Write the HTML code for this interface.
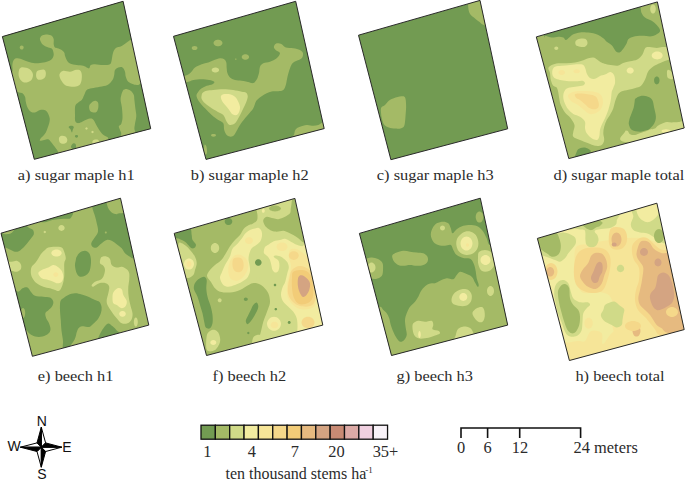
<!DOCTYPE html>
<html><head><meta charset="utf-8"><style>
html,body{margin:0;padding:0;background:#fff;}
svg{display:block;}
</style></head><body>
<svg width="685" height="479" viewBox="0 0 685 479">
<rect width="685" height="479" fill="#fff"/>
<clipPath id="c0"><polygon points="2.4,36.6 123.1,1.3 150.7,128.7 34.3,159.3"/></clipPath>
<polygon points="2.4,36.6 123.1,1.3 150.7,128.7 34.3,159.3" fill="#a4ba66"/>
<g clip-path="url(#c0)">
<path d="M-10.0,75.0C-6.6,88.7 6.8,72.9 10.5,72.0C14.2,71.1 12.2,70.8 12.5,69.8C12.8,68.8 12.2,67.1 12.3,65.7C12.4,64.3 12.6,62.6 13.0,61.5C13.4,60.4 14.0,59.4 14.6,58.9C15.2,58.4 15.5,58.2 16.7,58.3C17.9,58.3 20.0,58.7 21.7,59.2C23.4,59.7 24.8,60.7 26.7,61.3C28.6,61.9 31.1,62.7 33.3,63.0C35.5,63.3 37.8,63.2 40.0,63.0C42.2,62.8 44.8,62.3 46.7,61.7C48.7,61.1 50.5,60.3 51.7,59.2C52.9,58.1 53.5,56.4 53.7,55.0C53.9,53.6 53.3,51.9 53.0,50.8C52.7,49.7 52.5,49.1 51.7,48.6C50.9,48.1 49.7,48.1 48.3,47.5C46.9,46.9 44.5,46.0 43.3,45.0C42.0,44.0 41.3,42.8 40.8,41.7C40.2,40.6 39.7,39.4 40.0,38.3C40.3,37.2 41.2,35.9 42.5,35.3C43.8,34.7 46.0,34.4 47.5,34.5C49.0,34.6 50.7,35.0 51.7,35.8C52.7,36.6 53.4,37.8 53.7,39.2C54.0,40.6 53.5,42.8 53.7,44.2C53.9,45.6 54.4,46.8 55.0,47.5C55.6,48.2 56.4,47.9 57.5,48.3C58.6,48.7 60.6,49.3 61.7,50.0C62.8,50.7 63.7,51.5 64.2,52.5C64.8,53.5 64.6,54.5 65.0,55.8C65.4,57.0 65.9,58.7 66.7,60.0C67.5,61.3 68.3,62.7 70.0,63.5C71.7,64.3 74.5,64.6 76.7,65.0C78.9,65.4 81.6,65.4 83.3,65.8C85.0,66.2 85.7,67.1 86.7,67.5C87.7,67.9 88.5,68.7 89.2,68.3C89.9,67.9 89.8,65.7 90.8,65.0C91.8,64.3 92.9,64.2 95.0,64.2C97.1,64.2 100.8,65.0 103.3,65.0C105.8,65.0 108.6,65.0 110.0,64.2C111.4,63.4 111.3,61.5 111.7,60.0C112.1,58.5 112.1,56.7 112.5,55.0C112.9,53.3 113.5,51.2 114.2,50.0C114.9,48.8 115.7,48.0 116.7,47.5C117.7,47.0 118.9,47.1 120.0,46.7C121.1,46.3 122.2,45.7 123.3,45.0C124.4,44.3 125.7,43.2 126.7,42.5C127.7,41.8 128.5,41.2 129.2,40.8C129.9,40.4 128.4,40.5 131.0,40.0C133.6,39.5 142.7,46.3 145.0,38.0C147.3,29.7 170.8,-2.0 145.0,-10.0C119.2,-18.0 15.8,-24.2 -10.0,-10.0C-35.8,4.2 -13.4,61.3 -10.0,75.0Z" fill="#729b52"/>
<path d="M23.7,47.5C23.7,48.0 23.4,48.6 23.1,48.9C22.8,49.2 22.2,49.5 21.7,49.5C21.2,49.5 20.6,49.2 20.3,48.9C20.0,48.6 19.7,48.0 19.7,47.5C19.7,47.0 20.0,46.4 20.3,46.1C20.6,45.8 21.2,45.5 21.7,45.5C22.2,45.5 22.8,45.8 23.1,46.1C23.4,46.4 23.7,47.0 23.7,47.5Z" fill="#a4ba66"/>
<path d="M10.0,90.0C12.8,89.5 15.2,91.3 16.7,91.7C18.2,92.1 18.2,92.2 19.2,92.5C20.2,92.8 21.5,92.6 22.5,93.3C23.5,94.0 24.4,95.3 25.0,96.7C25.6,98.1 25.4,99.9 25.8,101.7C26.2,103.5 26.7,105.8 27.5,107.5C28.3,109.2 29.6,110.9 30.8,111.7C32.0,112.5 33.5,112.8 35.0,112.5C36.5,112.2 38.5,110.4 40.0,110.0C41.5,109.6 43.0,109.6 44.2,110.0C45.5,110.4 46.6,111.1 47.5,112.5C48.4,113.9 49.4,116.5 49.7,118.3C50.0,120.1 49.6,121.6 49.2,123.3C48.8,125.0 48.1,126.8 47.5,128.3C46.9,129.8 46.5,131.2 45.8,132.5C45.1,133.8 44.1,134.8 43.3,135.8C42.5,136.8 41.3,137.5 40.8,138.3C40.2,139.1 39.4,140.5 40.0,140.8C40.6,141.1 42.8,140.3 44.2,140.0C45.6,139.7 47.2,138.9 48.3,139.2C49.4,139.5 50.0,140.7 50.8,141.7C51.6,142.7 52.5,143.9 53.3,145.0C54.1,146.1 55.0,147.1 55.8,148.3C56.6,149.5 57.0,149.2 58.0,152.0C59.0,154.8 68.3,162.0 62.0,165.0C55.7,168.0 30.3,181.7 20.0,170.0C9.7,158.3 1.7,108.3 0.0,95.0C-1.7,81.7 7.2,90.5 10.0,90.0Z" fill="#729b52"/>
<path d="M115.0,70.0C115.7,68.8 117.0,67.9 118.3,67.5C119.5,67.1 121.4,66.8 122.5,67.5C123.6,68.2 124.5,70.2 125.0,71.7C125.5,73.2 125.2,75.0 125.8,76.7C126.3,78.4 127.1,80.5 128.3,81.7C129.6,83.0 131.6,83.7 133.3,84.2C135.0,84.8 136.2,85.0 138.3,85.0C140.4,85.0 142.4,77.3 146.0,84.0C149.6,90.7 158.0,114.8 160.0,125.0C162.0,135.2 165.7,142.2 158.0,145.0C150.3,147.8 122.4,143.3 114.0,142.0C105.6,140.7 109.4,138.5 107.6,137.2C105.8,135.9 104.3,135.7 102.9,134.4C101.5,133.2 100.2,131.3 99.1,129.7C98.0,128.1 97.1,126.4 96.3,125.0C95.5,123.6 95.0,122.3 94.4,121.3C93.8,120.3 93.4,119.4 92.6,118.9C91.8,118.4 91.0,118.3 89.7,118.5C88.4,118.7 86.4,119.7 85.0,120.3C83.6,120.9 82.5,121.7 81.3,122.2C80.0,122.7 78.5,123.3 77.5,123.1C76.5,122.9 75.6,122.3 75.2,121.0C74.8,119.7 75.0,117.5 75.0,115.0C75.0,112.5 74.7,108.1 75.2,106.0C75.8,103.9 77.2,103.5 78.3,102.5C79.4,101.5 80.7,101.2 81.7,100.0C82.7,98.8 83.4,96.7 84.2,95.0C85.0,93.3 85.5,91.1 86.7,90.0C88.0,88.9 89.5,88.8 91.7,88.3C93.9,87.8 97.4,87.2 100.0,86.7C102.6,86.2 105.4,86.1 107.5,85.0C109.6,83.9 111.4,81.7 112.5,80.0C113.6,78.3 113.8,76.7 114.2,75.0C114.6,73.3 114.3,71.2 115.0,70.0Z" fill="#729b52"/>
<path d="M89.2,105.8C89.5,104.4 90.7,103.3 91.7,102.5C92.7,101.7 94.0,100.8 95.0,100.8C96.0,100.8 97.5,101.4 98.0,102.5C98.5,103.6 98.5,106.0 98.3,107.5C98.1,109.0 97.5,110.9 96.7,111.7C95.9,112.5 94.4,112.7 93.3,112.5C92.2,112.3 90.7,111.9 90.0,110.8C89.3,109.7 88.9,107.2 89.2,105.8Z" fill="#a4ba66"/>
<path d="M123.0,90.5C123.6,89.5 124.2,89.4 125.0,89.2C125.8,89.0 127.0,89.2 128.0,89.5C129.0,89.8 130.0,90.1 131.0,91.0C132.0,91.9 133.2,93.5 133.8,95.0C134.4,96.5 134.1,97.5 134.4,100.0C134.7,102.5 135.3,107.3 135.6,110.0C135.9,112.7 136.4,114.0 136.3,116.3C136.2,118.6 135.3,121.7 135.0,123.8C134.7,125.9 134.4,127.6 134.4,128.8C134.4,130.1 134.7,129.4 135.0,131.3C135.3,133.2 138.5,138.2 136.0,140.0C133.5,141.8 122.5,143.0 120.0,142.0C117.5,141.0 121.3,136.0 121.3,134.0C121.3,132.0 120.4,131.3 120.0,130.0C119.6,128.7 118.6,127.3 118.8,126.3C119.0,125.3 120.7,125.3 121.3,123.8C121.9,122.3 122.4,120.2 122.5,117.5C122.6,114.8 122.2,110.4 121.9,107.5C121.6,104.6 120.7,102.1 120.6,100.0C120.5,97.9 120.9,96.6 121.3,95.0C121.7,93.4 122.4,91.5 123.0,90.5Z" fill="#a4ba66"/>
<path d="M68.6,126.9C68.8,126.3 70.5,125.8 71.4,125.8C72.3,125.8 73.6,126.2 73.8,126.9C74.0,127.6 73.1,128.8 72.8,129.7C72.5,130.6 72.3,132.6 71.9,132.5C71.5,132.4 71.0,130.1 70.5,129.2C70.0,128.3 68.4,127.5 68.6,126.9Z" fill="#729b52"/>
<path d="M78.1,136.3C78.1,136.6 77.9,137.1 77.6,137.3C77.4,137.5 76.9,137.7 76.5,137.7C76.1,137.7 75.6,137.5 75.4,137.3C75.1,137.1 74.9,136.6 74.9,136.3C74.9,136.0 75.1,135.5 75.4,135.3C75.6,135.1 76.1,134.9 76.5,134.9C76.9,134.9 77.4,135.1 77.6,135.3C77.9,135.5 78.1,136.0 78.1,136.3Z" fill="#729b52"/>
<path d="M71.0,147.0C70.8,145.9 72.2,144.0 73.0,143.5C73.8,143.0 75.0,143.2 75.5,144.0C76.0,144.8 76.2,147.0 76.0,148.0C75.8,149.0 74.8,150.2 74.0,150.0C73.2,149.8 71.2,148.1 71.0,147.0Z" fill="#729b52"/>
<path d="M19.3,69.3C19.9,68.0 20.8,67.5 21.9,67.2C23.0,67.0 24.7,67.4 26.1,67.8C27.5,68.2 29.2,68.8 30.3,69.8C31.4,70.8 32.6,72.4 32.9,74.0C33.2,75.6 32.7,77.9 31.9,79.2C31.1,80.5 29.5,81.4 28.2,81.9C26.9,82.4 25.3,82.8 24.0,82.4C22.7,82.1 21.3,81.0 20.4,79.8C19.5,78.6 18.8,76.8 18.6,75.1C18.4,73.3 18.8,70.6 19.3,69.3Z" fill="#d0da88"/>
<path d="M36.7,71.7C37.3,70.6 38.8,70.3 40.0,70.0C41.2,69.7 43.2,69.3 44.2,69.7C45.2,70.1 45.6,71.3 45.8,72.5C46.0,73.7 45.8,75.6 45.3,76.7C44.8,77.8 43.7,78.7 42.5,79.2C41.3,79.7 39.3,80.1 38.3,79.7C37.2,79.3 36.5,78.0 36.2,76.7C35.9,75.4 36.1,72.8 36.7,71.7Z" fill="#d0da88"/>
<path d="M60.0,73.3C60.6,72.4 61.6,71.1 63.3,70.8C65.0,70.5 68.0,71.8 70.0,71.7C72.0,71.6 73.4,70.3 75.0,70.0C76.6,69.7 78.4,69.5 79.5,70.0C80.6,70.5 81.1,71.5 81.5,73.0C81.9,74.5 82.0,77.1 81.7,79.0C81.5,80.9 81.0,83.2 80.0,84.5C79.0,85.8 77.7,86.2 76.0,86.5C74.3,86.8 71.8,86.8 70.0,86.5C68.2,86.2 66.5,86.1 65.0,85.0C63.5,83.9 61.9,81.5 61.0,80.0C60.1,78.5 59.7,77.1 59.5,76.0C59.3,74.9 59.4,74.2 60.0,73.3Z" fill="#d0da88"/>
<path d="M59.0,138.0C59.3,136.9 60.5,136.1 61.5,135.8C62.5,135.5 64.0,135.7 65.0,136.2C66.0,136.7 67.0,137.9 67.2,139.0C67.5,140.1 67.2,141.7 66.5,142.5C65.8,143.3 64.1,143.8 63.0,143.8C61.9,143.8 60.5,143.5 59.8,142.5C59.1,141.5 58.7,139.1 59.0,138.0Z" fill="#d0da88"/>
<path d="M87.7,128.5C87.7,128.8 87.5,129.1 87.3,129.3C87.1,129.5 86.8,129.7 86.5,129.7C86.2,129.7 85.9,129.5 85.7,129.3C85.5,129.1 85.3,128.8 85.3,128.5C85.3,128.2 85.5,127.9 85.7,127.7C85.9,127.5 86.2,127.3 86.5,127.3C86.8,127.3 87.1,127.5 87.3,127.7C87.5,127.9 87.7,128.2 87.7,128.5Z" fill="#d0da88"/>
<path d="M93.7,132.0C93.7,132.3 93.5,132.6 93.3,132.8C93.1,133.0 92.8,133.2 92.5,133.2C92.2,133.2 91.9,133.0 91.7,132.8C91.5,132.6 91.3,132.3 91.3,132.0C91.3,131.7 91.5,131.4 91.7,131.2C91.9,131.0 92.2,130.8 92.5,130.8C92.8,130.8 93.1,131.0 93.3,131.2C93.5,131.4 93.7,131.7 93.7,132.0Z" fill="#d0da88"/>
<path d="M92.6,141.0C92.9,140.3 94.1,139.8 95.0,139.6C95.9,139.4 97.5,139.4 98.2,140.0C98.9,140.6 99.9,142.3 99.0,143.0C98.1,143.7 94.1,144.3 93.0,144.0C91.9,143.7 92.3,141.7 92.6,141.0Z" fill="#d0da88"/>
</g>
<polygon points="2.4,36.6 123.1,1.3 150.7,128.7 34.3,159.3" fill="none" stroke="#2a2a2a" stroke-width="1"/>
<clipPath id="c1"><polygon points="173.5,36.3 295.7,1.3 324.2,128.6 206,159.4"/></clipPath>
<polygon points="173.5,36.3 295.7,1.3 324.2,128.6 206,159.4" fill="#729b52"/>
<g clip-path="url(#c1)">
<path d="M175.0,76.0C176.5,74.7 181.5,76.5 184.0,76.0C186.5,75.5 188.2,74.7 190.0,73.3C191.8,71.9 193.1,69.0 195.0,67.5C196.9,66.0 199.5,65.0 201.7,64.2C203.9,63.4 206.2,63.2 208.3,62.5C210.4,61.8 212.2,60.7 214.2,60.0C216.1,59.3 218.3,58.4 220.0,58.3C221.7,58.2 223.1,58.5 224.2,59.2C225.2,59.9 225.9,61.0 226.3,62.5C226.7,64.0 226.5,66.5 226.7,68.3C226.9,70.1 226.9,71.8 227.5,73.3C228.1,74.8 228.8,76.4 230.0,77.5C231.2,78.6 233.1,79.5 235.0,80.0C236.9,80.5 239.5,80.5 241.7,80.8C243.9,81.1 246.1,81.6 248.0,82.0C249.9,82.4 251.8,83.5 253.3,83.0C254.8,82.5 256.1,80.7 257.0,79.0C257.9,77.3 258.5,75.0 259.0,73.0C259.5,71.0 259.3,68.3 260.0,66.7C260.7,65.1 261.6,64.1 263.3,63.3C265.0,62.5 267.8,62.5 270.0,61.7C272.2,60.9 275.0,59.7 276.7,58.3C278.4,56.9 280.0,54.5 280.0,53.3C280.0,52.0 277.7,51.6 276.7,50.8C275.7,50.0 274.6,49.1 274.2,48.3C273.8,47.5 273.8,46.6 274.2,45.8C274.6,45.0 275.4,43.6 276.7,43.3C277.9,43.0 280.2,43.5 281.7,44.2C283.2,44.9 283.9,46.8 285.8,47.5C287.7,48.2 290.9,47.9 293.3,48.3C295.7,48.7 298.4,49.2 300.0,50.0C301.6,50.8 302.7,51.9 303.0,53.3C303.3,54.7 302.8,57.0 301.7,58.3C300.6,59.5 298.2,60.0 296.7,60.8C295.2,61.6 293.6,62.0 292.5,63.3C291.4,64.5 290.8,66.1 290.0,68.3C289.2,70.5 288.2,73.9 287.5,76.7C286.8,79.5 286.5,82.8 285.8,85.0C285.1,87.2 284.6,89.0 283.3,90.0C282.1,91.0 280.2,91.0 278.3,91.3C276.4,91.5 273.6,91.2 271.7,91.5C269.8,91.8 268.3,92.5 266.7,93.3C265.1,94.0 263.4,95.0 262.0,96.0C260.6,97.0 259.0,98.0 258.0,99.0C257.0,100.0 256.6,100.2 255.8,101.7C255.0,103.2 254.3,106.5 253.3,108.3C252.3,110.1 251.4,110.8 250.0,112.5C248.6,114.2 246.7,116.2 245.0,118.3C243.3,120.4 241.4,122.9 240.0,125.0C238.6,127.1 237.7,129.1 236.7,130.8C235.7,132.5 235.2,134.0 234.2,135.0C233.2,136.0 232.1,136.7 230.8,136.7C229.6,136.7 227.8,136.1 226.7,135.0C225.6,133.9 224.8,131.9 224.2,130.0C223.6,128.1 224.3,125.0 223.3,123.3C222.3,121.6 220.2,121.4 218.3,120.0C216.4,118.6 213.9,117.0 211.7,115.0C209.5,113.0 207.1,110.5 205.0,108.3C202.9,106.1 200.6,103.8 199.2,101.7C197.8,99.7 196.7,97.7 196.5,96.0C196.3,94.3 197.4,93.0 198.3,91.7C199.2,90.4 200.3,89.3 201.7,88.3C203.1,87.3 204.9,86.5 206.7,85.8C208.5,85.1 211.2,84.9 212.5,84.2C213.8,83.5 214.8,82.4 214.2,81.7C213.6,81.0 211.3,80.4 209.2,80.0C207.1,79.6 204.3,79.2 201.7,79.2C199.0,79.2 195.5,79.6 193.3,80.0C191.1,80.4 191.4,81.0 188.3,81.7C185.2,82.4 177.2,85.0 175.0,84.0C172.8,83.0 173.5,77.3 175.0,76.0Z" fill="#a4ba66"/>
<path d="M222.5,43.0C222.5,43.8 221.9,44.8 221.2,45.3C220.4,45.9 219.1,46.3 218.0,46.3C216.9,46.3 215.6,45.9 214.8,45.3C214.1,44.8 213.5,43.8 213.5,43.0C213.5,42.2 214.1,41.2 214.8,40.7C215.6,40.1 216.9,39.7 218.0,39.7C219.1,39.7 220.4,40.1 221.2,40.7C221.9,41.2 222.5,42.2 222.5,43.0Z" fill="#a4ba66"/>
<path d="M197.5,48.0C197.5,48.5 197.1,49.1 196.7,49.5C196.2,49.8 195.3,50.1 194.6,50.1C193.9,50.1 193.0,49.8 192.5,49.5C192.1,49.1 191.7,48.5 191.7,48.0C191.7,47.5 192.1,46.9 192.5,46.5C193.0,46.2 193.9,45.9 194.6,45.9C195.3,45.9 196.2,46.2 196.7,46.5C197.1,46.9 197.5,47.5 197.5,48.0Z" fill="#a4ba66"/>
<path d="M249.1,57.0C249.1,57.7 248.6,58.5 248.0,59.0C247.4,59.4 246.3,59.8 245.4,59.8C244.5,59.8 243.4,59.4 242.8,59.0C242.2,58.5 241.7,57.7 241.7,57.0C241.7,56.3 242.2,55.5 242.8,55.0C243.4,54.6 244.5,54.2 245.4,54.2C246.3,54.2 247.4,54.6 248.0,55.0C248.6,55.5 249.1,56.3 249.1,57.0Z" fill="#a4ba66"/>
<path d="M236.6,59.2C236.6,59.3 236.5,59.5 236.4,59.6C236.2,59.7 236.0,59.8 235.8,59.8C235.6,59.8 235.4,59.7 235.2,59.6C235.1,59.5 235.0,59.3 235.0,59.2C235.0,59.1 235.1,58.9 235.2,58.8C235.4,58.7 235.6,58.6 235.8,58.6C236.0,58.6 236.2,58.7 236.4,58.8C236.5,58.9 236.6,59.1 236.6,59.2Z" fill="#a4ba66"/>
<path d="M294.2,134.2C294.5,132.4 294.8,130.4 295.8,129.2C296.8,127.9 298.2,127.4 300.0,126.7C301.8,126.0 304.5,125.2 306.7,125.0C308.9,124.8 311.4,125.8 313.3,125.8C315.2,125.8 316.8,125.5 318.3,125.0C319.8,124.5 321.2,123.2 322.5,122.5C323.8,121.8 324.8,118.9 326.0,121.0C327.2,123.1 335.3,131.8 330.0,135.0C324.7,138.2 300.0,140.1 294.0,140.0C288.0,139.9 293.9,136.0 294.2,134.2Z" fill="#a4ba66"/>
<path d="M204.5,145.0C204.9,143.7 205.8,145.2 206.2,146.0C206.6,146.8 206.9,148.7 207.0,150.0C207.1,151.3 207.0,153.3 206.5,154.0C206.0,154.7 204.3,155.5 204.0,154.0C203.7,152.5 204.1,146.3 204.5,145.0Z" fill="#a4ba66"/>
<path d="M216.0,135.3C216.0,135.6 215.7,136.1 215.3,136.3C214.9,136.5 214.1,136.7 213.5,136.7C212.9,136.7 212.1,136.5 211.7,136.3C211.3,136.1 211.0,135.6 211.0,135.3C211.0,135.0 211.3,134.5 211.7,134.3C212.1,134.1 212.9,133.9 213.5,133.9C214.1,133.9 214.9,134.1 215.3,134.3C215.7,134.5 216.0,135.0 216.0,135.3Z" fill="#a4ba66"/>
<path d="M219.1,70.0C219.1,70.6 218.6,71.4 218.0,71.8C217.4,72.2 216.3,72.5 215.4,72.5C214.5,72.5 213.4,72.2 212.8,71.8C212.2,71.4 211.7,70.6 211.7,70.0C211.7,69.4 212.2,68.6 212.8,68.2C213.4,67.8 214.5,67.5 215.4,67.5C216.3,67.5 217.4,67.8 218.0,68.2C218.6,68.6 219.1,69.4 219.1,70.0Z" fill="#d0da88"/>
<path d="M201.7,95.0C201.9,93.9 202.2,93.2 203.0,92.5C203.8,91.8 205.0,91.2 206.7,90.8C208.4,90.4 210.5,90.3 213.3,90.0C216.1,89.7 220.0,89.2 223.3,89.2C226.6,89.2 230.2,89.6 233.3,90.0C236.4,90.4 239.6,91.3 241.7,91.7C243.8,92.1 244.8,92.0 245.8,92.5C246.8,93.0 247.2,94.0 247.5,95.0C247.8,96.0 247.9,96.6 247.5,98.3C247.1,100.0 246.0,102.8 245.0,105.0C244.0,107.2 242.8,109.5 241.7,111.7C240.6,113.9 239.4,116.4 238.3,118.3C237.2,120.2 236.4,122.2 235.0,123.3C233.6,124.4 231.4,125.3 230.0,125.0C228.6,124.7 227.8,123.4 226.7,121.7C225.6,120.0 224.8,116.7 223.3,115.0C221.8,113.3 219.4,112.8 217.5,111.7C215.6,110.6 213.8,109.7 211.7,108.3C209.6,106.9 206.7,104.8 205.0,103.3C203.3,101.8 202.2,100.4 201.7,99.0C201.1,97.6 201.5,96.1 201.7,95.0Z" fill="#d0da88"/>
<path d="M220.8,96.7C220.9,95.5 221.8,94.6 223.3,94.2C224.8,93.8 228.1,93.8 230.0,94.2C231.9,94.6 233.6,95.5 235.0,96.7C236.4,98.0 237.5,100.0 238.3,101.7C239.1,103.4 239.8,105.0 240.0,106.7C240.2,108.4 239.8,110.3 239.2,111.7C238.6,113.1 237.8,114.6 236.7,115.0C235.6,115.4 233.8,115.0 232.5,114.2C231.2,113.4 230.3,111.4 229.2,110.0C228.1,108.6 226.9,107.2 225.8,105.8C224.7,104.4 223.3,103.2 222.5,101.7C221.7,100.2 220.7,98.0 220.8,96.7Z" fill="#f2eca0"/>
</g>
<polygon points="173.5,36.3 295.7,1.3 324.2,128.6 206,159.4" fill="none" stroke="#2a2a2a" stroke-width="1"/>
<clipPath id="c2"><polygon points="358.5,35.2 480,0.4 507.7,128.8 390.9,159.7"/></clipPath>
<polygon points="358.5,35.2 480,0.4 507.7,128.8 390.9,159.7" fill="#729b52"/>
<g clip-path="url(#c2)">
<path d="M381.3,107.6C382.0,106.3 383.8,106.2 385.0,105.1C386.2,103.9 387.3,101.8 388.8,100.7C390.3,99.6 391.7,98.9 393.8,98.2C395.9,97.5 399.4,96.4 401.3,96.3C403.2,96.2 404.3,96.0 405.1,97.5C405.9,99.0 406.0,102.4 406.1,105.1C406.2,107.8 406.0,110.5 405.7,113.8C405.4,117.1 405.2,122.7 404.5,125.1C403.8,127.5 402.9,127.6 401.3,128.2C399.7,128.8 397.2,128.7 395.1,128.6C393.0,128.5 390.6,128.0 388.8,127.4C387.0,126.8 385.5,126.5 384.4,125.1C383.2,123.7 382.5,120.9 381.9,118.8C381.3,116.7 381.1,114.5 381.0,112.6C380.9,110.7 380.6,108.8 381.3,107.6Z" fill="#a4ba66"/>
<path d="M467.0,2.0C467.3,4.2 467.7,3.5 468.0,5.0C468.3,6.5 468.3,9.2 468.8,10.9C469.3,12.6 469.9,13.8 470.9,15.0C471.9,16.2 473.6,17.3 475.0,18.4C476.4,19.5 477.7,20.6 479.2,21.7C480.7,22.8 481.2,24.1 483.8,25.1C486.4,26.2 493.1,33.5 495.0,28.0C496.9,22.5 499.8,-2.0 495.0,-8.0C490.2,-14.0 470.7,-9.7 466.0,-8.0C461.3,-6.3 466.7,-0.2 467.0,2.0Z" fill="#a4ba66"/>
</g>
<polygon points="358.5,35.2 480,0.4 507.7,128.8 390.9,159.7" fill="none" stroke="#2a2a2a" stroke-width="1"/>
<clipPath id="c3"><polygon points="536.3,36.9 657.4,1.9 684.2,128 568.8,158.6"/></clipPath>
<polygon points="536.3,36.9 657.4,1.9 684.2,128 568.8,158.6" fill="#a4ba66"/>
<g clip-path="url(#c3)">
<path d="M544.0,34.0C545.0,40.8 544.5,35.2 545.8,35.8C547.1,36.4 549.6,37.4 551.7,37.5C553.8,37.6 556.4,36.7 558.3,36.7C560.2,36.7 562.0,37.0 563.3,37.5C564.5,38.0 564.8,40.0 565.8,40.0C566.8,40.0 568.0,38.5 569.2,37.5C570.5,36.5 571.5,35.0 573.3,34.2C575.1,33.4 577.8,32.8 580.0,32.5C582.2,32.2 584.5,32.4 586.7,32.5C588.9,32.6 591.4,32.9 593.3,33.3C595.2,33.7 596.6,34.2 598.3,35.0C600.0,35.8 601.9,37.2 603.3,38.3C604.7,39.4 605.6,40.8 606.7,41.7C607.8,42.6 608.8,43.1 609.8,43.8C610.8,44.5 611.4,44.7 612.4,46.0C613.4,47.3 614.8,50.4 616.0,51.5C617.2,52.6 618.3,52.8 619.5,52.4C620.7,52.0 621.9,50.4 623.1,48.9C624.3,47.4 625.7,45.1 626.6,43.5C627.5,41.9 627.2,40.3 628.3,39.2C629.4,38.1 631.1,37.3 633.3,36.7C635.5,36.1 638.6,35.9 641.7,35.8C644.8,35.7 648.9,36.7 651.7,36.3C654.5,35.9 656.9,34.3 658.3,33.3C659.7,32.2 660.3,31.4 660.0,30.0C659.7,28.6 658.1,26.5 656.7,25.0C655.3,23.5 653.7,22.1 651.7,20.8C649.8,19.6 646.7,18.8 645.0,17.5C643.3,16.2 642.4,14.7 641.7,13.3C641.0,11.9 641.0,10.6 640.8,9.2C640.6,7.8 640.6,7.4 640.5,5.0C640.4,2.6 656.8,-3.3 640.0,-5.0C623.2,-6.7 556.0,-11.5 540.0,-5.0C524.0,1.5 543.0,27.2 544.0,34.0Z" fill="#729b52"/>
<path d="M575.8,40.8C576.5,39.8 578.3,39.0 580.0,38.7C581.7,38.4 584.5,38.4 585.8,39.2C587.0,40.0 587.6,42.0 587.5,43.3C587.4,44.5 586.2,46.1 585.0,46.7C583.8,47.3 581.5,47.0 580.0,46.7C578.5,46.4 576.5,46.0 575.8,45.0C575.1,44.0 575.1,41.8 575.8,40.8Z" fill="#d0da88"/>
<path d="M558.3,48.2C558.3,48.6 558.0,49.2 557.7,49.5C557.4,49.8 556.8,50.0 556.3,50.0C555.8,50.0 555.2,49.8 554.9,49.5C554.6,49.2 554.3,48.6 554.3,48.2C554.3,47.8 554.6,47.2 554.9,46.9C555.2,46.6 555.8,46.4 556.3,46.4C556.8,46.4 557.4,46.6 557.7,46.9C558.0,47.2 558.3,47.8 558.3,48.2Z" fill="#d0da88"/>
<path d="M655.8,9.0C655.8,10.1 655.4,11.4 655.0,12.2C654.5,12.9 653.7,13.5 653.0,13.5C652.3,13.5 651.5,12.9 651.0,12.2C650.6,11.4 650.2,10.1 650.2,9.0C650.2,7.9 650.6,6.6 651.0,5.8C651.5,5.1 652.3,4.5 653.0,4.5C653.7,4.5 654.5,5.1 655.0,5.8C655.4,6.6 655.8,7.9 655.8,9.0Z" fill="#d0da88"/>
<path d="M548.3,68.3C548.6,67.0 550.0,65.8 551.7,65.0C553.4,64.2 555.8,63.6 558.3,63.3C560.8,63.0 563.9,63.4 566.7,63.3C569.5,63.2 572.5,62.9 575.0,62.5C577.5,62.1 579.5,61.5 581.7,60.8C583.9,60.1 586.4,58.8 588.3,58.3C590.2,57.8 591.9,57.4 593.3,57.5C594.7,57.6 595.6,58.5 596.7,59.2C597.8,59.9 598.9,61.0 600.0,61.7C601.1,62.4 601.8,62.8 603.3,63.3C604.8,63.8 606.5,64.4 608.9,64.8C611.3,65.2 615.3,66.0 617.7,65.7C620.1,65.4 621.0,63.8 623.1,63.1C625.2,62.4 627.8,61.9 630.2,61.3C632.6,60.7 635.2,60.7 637.3,59.5C639.4,58.3 641.3,56.1 642.6,54.2C643.9,52.3 644.1,49.2 645.3,48.0C646.5,46.8 647.8,47.1 649.7,47.1C651.6,47.1 654.7,48.0 656.8,48.0C658.9,48.0 660.5,47.2 662.1,47.1C663.7,47.0 664.4,47.1 666.5,47.1C668.6,47.1 673.6,44.9 675.0,47.0C676.4,49.1 676.0,57.4 675.0,59.5C674.0,61.6 671.7,58.9 669.2,59.5C666.8,60.1 663.0,61.9 660.3,63.1C657.6,64.3 655.3,65.1 653.2,66.6C651.1,68.1 649.2,69.8 647.9,71.9C646.6,74.0 646.5,76.6 645.3,79.0C644.1,81.4 642.4,84.6 640.8,86.1C639.2,87.6 637.6,87.3 635.5,87.9C633.4,88.5 630.8,89.1 628.4,89.7C626.0,90.3 623.1,90.6 621.3,91.5C619.5,92.4 618.8,93.3 617.7,95.0C616.7,96.7 615.7,99.5 615.0,101.7C614.3,103.9 614.1,106.1 613.3,108.3C612.5,110.5 611.1,113.0 610.0,115.0C608.9,117.0 607.7,118.0 606.7,120.0C605.7,122.0 604.8,124.5 604.2,126.7C603.6,128.9 603.3,131.1 603.3,133.3C603.3,135.5 604.5,138.1 604.2,140.0C603.9,141.9 603.2,144.0 601.7,145.0C600.2,146.0 597.2,146.1 595.0,145.8C592.8,145.5 590.8,144.3 588.3,143.3C585.8,142.3 582.5,141.1 580.0,140.0C577.5,138.9 574.4,138.1 573.3,136.7C572.2,135.3 573.1,133.6 573.3,131.7C573.5,129.8 575.0,127.3 574.5,125.0C574.0,122.7 572.1,120.1 570.5,118.0C568.9,115.9 566.6,114.7 565.0,112.5C563.4,110.3 561.8,107.4 560.8,105.0C559.8,102.6 559.6,100.4 559.2,98.3C558.8,96.2 558.7,94.3 558.3,92.5C557.9,90.7 557.5,88.6 556.7,87.5C555.9,86.4 554.3,87.0 553.3,85.8C552.3,84.5 551.3,82.1 550.8,80.0C550.2,77.9 550.4,75.0 550.0,73.0C549.6,71.0 548.0,69.6 548.3,68.3Z" fill="#d0da88"/>
<path d="M552.5,70.0C552.9,68.6 553.5,67.4 555.0,66.7C556.5,66.0 559.2,66.1 561.7,65.8C564.2,65.5 567.2,65.3 570.0,65.0C572.8,64.7 576.1,64.2 578.3,64.2C580.5,64.2 582.1,64.2 583.3,65.0C584.5,65.8 584.9,67.5 585.5,69.0C586.1,70.5 586.2,72.5 587.0,74.0C587.8,75.5 588.8,77.2 590.0,78.0C591.2,78.8 592.8,79.1 594.0,79.0C595.2,78.9 596.5,78.0 597.5,77.5C598.5,77.0 598.8,76.5 600.0,76.0C601.2,75.5 603.2,75.3 605.0,74.6C606.8,73.9 609.1,71.8 610.6,71.9C612.1,72.1 613.5,73.7 614.2,75.5C615.0,77.3 615.2,80.5 615.1,82.6C615.0,84.7 613.9,86.3 613.3,87.9C612.7,89.5 612.1,90.0 611.7,92.0C611.3,94.0 611.4,97.0 610.8,100.0C610.2,103.0 609.3,107.0 608.3,110.0C607.3,113.0 606.1,115.8 605.0,118.3C603.9,120.8 602.5,123.0 601.7,125.0C600.9,127.0 600.4,128.1 600.0,130.0C599.6,131.9 599.8,135.0 599.2,136.7C598.7,138.4 598.0,139.7 596.7,140.0C595.5,140.3 593.4,139.4 591.7,138.3C590.0,137.2 587.8,135.0 586.7,133.3C585.6,131.6 585.3,130.2 585.0,128.3C584.7,126.4 585.8,123.6 585.0,121.7C584.2,119.8 582.0,118.0 580.0,116.7C578.0,115.4 575.3,115.3 573.3,114.0C571.3,112.7 569.5,111.0 568.0,109.0C566.5,107.0 565.0,104.0 564.2,101.7C563.4,99.4 563.1,97.0 563.3,95.0C563.5,93.0 564.4,90.8 565.5,89.5C566.6,88.2 568.1,88.0 570.0,87.5C571.9,87.0 574.8,86.8 577.0,86.5C579.2,86.2 581.7,86.1 583.0,85.5C584.3,84.9 585.0,83.8 585.0,83.0C585.0,82.2 583.8,81.3 583.0,81.0C582.2,80.7 581.3,81.0 580.0,81.0C578.7,81.0 577.2,81.3 575.0,81.3C572.8,81.3 569.2,81.2 566.7,81.0C564.2,80.8 562.0,80.5 560.0,80.0C558.0,79.5 556.2,79.1 555.0,78.3C553.8,77.5 552.9,76.4 552.5,75.0C552.1,73.6 552.1,71.4 552.5,70.0Z" fill="#f2eca0"/>
<path d="M568.0,95.0C568.7,93.4 572.2,92.2 575.0,91.5C577.8,90.8 581.7,90.9 585.0,91.0C588.3,91.1 592.3,91.3 595.0,92.0C597.7,92.7 599.7,93.3 601.0,95.0C602.3,96.7 603.0,99.7 603.0,102.0C603.0,104.3 602.2,107.2 601.0,109.0C599.8,110.8 597.8,112.2 596.0,113.0C594.2,113.8 592.0,114.5 590.0,114.0C588.0,113.5 586.0,111.5 584.0,110.0C582.0,108.5 580.2,106.5 578.0,105.0C575.8,103.5 572.7,102.7 571.0,101.0C569.3,99.3 567.3,96.6 568.0,95.0Z" fill="#f6e598"/>
<path d="M575.0,94.3C575.8,93.6 579.2,93.6 581.3,93.6C583.4,93.6 585.4,94.0 587.5,94.3C589.6,94.6 592.2,94.9 593.8,95.5C595.4,96.1 596.1,96.6 596.9,98.0C597.7,99.4 598.6,102.1 598.8,103.7C599.0,105.3 598.9,106.5 598.2,107.4C597.5,108.3 595.9,109.2 594.4,109.3C592.9,109.4 591.1,108.9 589.4,108.0C587.7,107.1 586.0,105.0 584.4,103.7C582.8,102.4 581.4,100.9 580.0,99.9C578.6,99.0 577.1,98.9 576.3,98.0C575.5,97.1 574.2,95.0 575.0,94.3Z" fill="#f5d88a"/>
<path d="M565.0,72.5C565.0,73.1 564.6,73.9 564.0,74.3C563.5,74.7 562.5,75.0 561.7,75.0C560.9,75.0 559.9,74.7 559.4,74.3C558.8,73.9 558.4,73.1 558.4,72.5C558.4,71.9 558.8,71.1 559.4,70.7C559.9,70.3 560.9,70.0 561.7,70.0C562.5,70.0 563.5,70.3 564.0,70.7C564.6,71.1 565.0,71.9 565.0,72.5Z" fill="#f6e598"/>
<path d="M580.0,71.3C580.0,71.8 579.6,72.4 579.0,72.7C578.5,73.0 577.5,73.3 576.7,73.3C575.9,73.3 574.9,73.0 574.4,72.7C573.8,72.4 573.4,71.8 573.4,71.3C573.4,70.8 573.8,70.2 574.4,69.9C574.9,69.6 575.9,69.3 576.7,69.3C577.5,69.3 578.5,69.6 579.0,69.9C579.6,70.2 580.0,70.8 580.0,71.3Z" fill="#f6e598"/>
<path d="M662.7,55.5C662.7,56.4 662.0,57.7 661.1,58.3C660.2,59.0 658.5,59.5 657.2,59.5C655.9,59.5 654.2,59.0 653.3,58.3C652.4,57.7 651.7,56.4 651.7,55.5C651.7,54.6 652.4,53.3 653.3,52.7C654.2,52.0 655.9,51.5 657.2,51.5C658.5,51.5 660.2,52.0 661.1,52.7C662.0,53.3 662.7,54.6 662.7,55.5Z" fill="#f2eca0"/>
<path d="M633.8,70.6C633.8,71.3 633.3,72.3 632.7,72.8C632.1,73.3 631.0,73.7 630.2,73.7C629.4,73.7 628.3,73.3 627.7,72.8C627.1,72.3 626.6,71.3 626.6,70.6C626.6,69.9 627.1,68.9 627.7,68.4C628.3,67.9 629.4,67.5 630.2,67.5C631.0,67.5 632.1,67.9 632.7,68.4C633.3,68.9 633.8,69.9 633.8,70.6Z" fill="#f2eca0"/>
<path d="M667.4,70.2C667.9,69.6 669.1,69.9 670.0,70.5C670.9,71.1 672.5,72.6 673.0,74.0C673.5,75.4 673.6,78.3 672.8,79.0C672.0,79.7 669.0,78.8 668.0,78.0C667.0,77.2 667.1,75.3 667.0,74.0C666.9,72.7 666.9,70.8 667.4,70.2Z" fill="#d0da88"/>
<path d="M659.5,80.4C659.5,81.3 659.2,82.6 658.7,83.2C658.3,83.9 657.4,84.4 656.8,84.4C656.2,84.4 655.3,83.9 654.9,83.2C654.4,82.6 654.1,81.3 654.1,80.4C654.1,79.5 654.4,78.2 654.9,77.6C655.3,76.9 656.2,76.4 656.8,76.4C657.4,76.4 658.3,76.9 658.7,77.6C659.2,78.2 659.5,79.5 659.5,80.4Z" fill="#729b52"/>
<path d="M635.5,98.6C636.5,97.6 638.7,96.2 640.8,95.9C642.9,95.6 646.0,96.1 647.9,96.8C649.8,97.5 651.4,98.5 652.4,100.3C653.4,102.1 653.5,104.7 654.1,107.4C654.7,110.1 655.9,114.0 655.9,116.7C655.9,119.4 655.2,121.5 654.2,123.4C653.2,125.4 651.2,127.3 650.0,128.4C648.8,129.5 648.4,129.6 646.7,130.1C645.0,130.6 642.5,131.7 640.0,131.7C637.5,131.7 633.8,131.1 632.0,130.0C630.2,128.9 629.5,126.7 629.0,125.0C628.5,123.3 628.9,121.8 629.3,120.0C629.6,118.2 630.4,116.6 631.1,114.5C631.8,112.4 633.1,109.5 633.7,107.4C634.3,105.3 634.3,103.6 634.6,102.1C634.9,100.6 634.5,99.6 635.5,98.6Z" fill="#729b52"/>
<path d="M625.0,131.7C625.4,129.8 626.7,130.4 627.5,130.8C628.3,131.2 628.8,133.5 630.0,134.2C631.2,134.9 633.4,135.2 635.0,135.0C636.6,134.8 637.8,134.0 639.8,133.3C641.8,132.6 645.0,131.6 646.7,131.0C648.4,130.4 648.6,129.9 650.0,129.5C651.4,129.1 653.8,129.0 655.0,128.4C656.2,127.8 656.4,126.7 657.5,125.9C658.6,125.1 660.2,124.4 661.7,123.8C663.2,123.2 665.0,122.3 666.7,122.1C668.4,121.9 669.8,122.5 671.7,122.5C673.7,122.5 676.7,122.3 678.4,122.1C680.1,121.9 679.8,121.6 681.7,121.3C683.6,121.0 688.6,116.9 690.0,120.0C691.4,123.1 700.8,136.3 690.0,140.0C679.2,143.7 635.8,143.4 625.0,142.0C614.2,140.6 624.6,133.6 625.0,131.7Z" fill="#d0da88"/>
<path d="M670.5,131.0C670.5,131.4 669.9,132.0 669.2,132.3C668.4,132.6 667.1,132.8 666.0,132.8C664.9,132.8 663.6,132.6 662.8,132.3C662.1,132.0 661.5,131.4 661.5,131.0C661.5,130.6 662.1,130.0 662.8,129.7C663.6,129.4 664.9,129.2 666.0,129.2C667.1,129.2 668.4,129.4 669.2,129.7C669.9,130.0 670.5,130.6 670.5,131.0Z" fill="#f2eca0"/>
<path d="M576.7,151.7C577.5,149.4 578.6,149.0 580.0,148.3C581.4,147.6 583.3,147.2 585.0,147.5C586.7,147.8 589.0,149.2 590.0,150.0C591.0,150.8 590.5,150.5 590.8,152.5C591.1,154.5 594.6,160.4 592.0,162.0C589.4,163.6 577.5,163.7 575.0,162.0C572.5,160.3 575.9,154.0 576.7,151.7Z" fill="#729b52"/>
</g>
<polygon points="536.3,36.9 657.4,1.9 684.2,128 568.8,158.6" fill="none" stroke="#2a2a2a" stroke-width="1"/>
<clipPath id="c4"><polygon points="1,233.2 120.5,198.2 148.8,325.1 32.4,356.3"/></clipPath>
<polygon points="1,233.2 120.5,198.2 148.8,325.1 32.4,356.3" fill="#a4ba66"/>
<g clip-path="url(#c4)">
<path d="M-5.0,233.0C-3.9,230.7 0.0,232.8 1.7,233.0C3.4,233.2 3.6,234.1 5.0,234.2C6.4,234.3 8.6,234.3 10.0,233.8C11.4,233.3 12.2,232.3 13.4,231.0C14.6,229.7 15.2,227.2 17.0,226.0C18.8,224.8 22.1,223.8 24.0,224.0C25.9,224.2 27.0,226.5 28.5,227.5C30.0,228.5 32.1,228.9 33.0,230.0C33.9,231.1 34.0,232.9 33.8,234.2C33.6,235.4 32.6,236.2 31.7,237.5C30.8,238.8 29.6,240.2 28.4,241.7C27.1,243.2 25.7,245.2 24.2,246.7C22.7,248.2 20.7,250.1 19.2,250.9C17.7,251.7 16.4,251.8 15.0,251.7C13.6,251.6 12.3,250.7 10.9,250.1C9.5,249.5 8.0,248.5 6.7,248.0C5.4,247.5 5.2,247.4 3.3,247.2C1.3,247.0 -3.6,249.4 -5.0,247.0C-6.4,244.6 -6.1,235.3 -5.0,233.0Z" fill="#729b52"/>
<path d="M40.0,221.0C40.8,222.7 43.1,222.3 44.9,222.2C46.7,222.1 48.6,220.9 50.7,220.4C52.8,219.9 55.6,219.6 57.7,219.3C59.8,219.0 61.5,218.8 63.5,218.7C65.5,218.6 68.0,219.1 69.4,218.7C70.8,218.3 71.1,217.3 71.7,216.4C72.3,215.5 73.0,214.9 73.0,213.0C73.0,211.1 77.5,205.2 72.0,205.0C66.5,204.8 45.3,209.3 40.0,212.0C34.7,214.7 39.2,219.3 40.0,221.0Z" fill="#729b52"/>
<path d="M92.0,200.0C90.0,201.5 92.1,203.4 92.2,205.0C92.3,206.6 92.2,207.4 92.7,209.3C93.2,211.2 94.4,214.1 95.1,216.4C95.8,218.8 96.3,221.3 96.8,223.4C97.3,225.5 97.9,227.5 98.0,229.2C98.1,230.8 98.1,231.8 97.5,233.3C96.9,234.8 95.2,236.6 94.2,238.3C93.2,240.0 91.6,241.9 91.3,243.3C91.0,244.7 91.6,246.0 92.5,246.7C93.4,247.4 95.2,248.1 96.7,247.5C98.2,246.9 100.0,244.6 101.7,243.3C103.4,242.1 105.0,240.4 106.7,240.0C108.4,239.6 110.0,240.1 111.7,240.8C113.4,241.5 115.0,242.9 116.7,244.2C118.4,245.4 120.3,246.8 121.7,248.3C123.1,249.8 123.6,251.9 125.0,253.3C126.4,254.7 128.6,255.9 130.0,256.7C131.4,257.5 130.8,258.1 133.3,258.3C135.8,258.5 143.1,265.6 145.0,258.0C146.9,250.4 149.0,220.4 145.0,213.0C141.0,205.6 125.5,213.1 120.8,213.3C116.1,213.5 118.2,214.3 116.7,214.2C115.2,214.1 113.1,213.5 111.7,212.5C110.3,211.5 109.1,209.8 108.3,208.3C107.5,206.8 107.4,205.4 106.7,203.3C106.0,201.2 106.5,196.6 104.0,196.0C101.5,195.4 94.0,198.5 92.0,200.0Z" fill="#729b52"/>
<path d="M106.8,232.5C106.8,232.7 106.7,233.0 106.5,233.2C106.3,233.4 106.0,233.5 105.8,233.5C105.6,233.5 105.3,233.4 105.1,233.2C104.9,233.0 104.8,232.7 104.8,232.5C104.8,232.3 104.9,232.0 105.1,231.8C105.3,231.6 105.6,231.5 105.8,231.5C106.0,231.5 106.3,231.6 106.5,231.8C106.7,232.0 106.8,232.3 106.8,232.5Z" fill="#a4ba66"/>
<path d="M64.7,228.0C64.7,228.7 64.3,229.6 63.8,230.1C63.2,230.5 62.3,230.9 61.5,230.9C60.7,230.9 59.8,230.5 59.2,230.1C58.7,229.6 58.3,228.7 58.3,228.0C58.3,227.3 58.7,226.4 59.2,225.9C59.8,225.5 60.7,225.1 61.5,225.1C62.3,225.1 63.2,225.5 63.8,225.9C64.3,226.4 64.7,227.3 64.7,228.0Z" fill="#d0da88"/>
<path d="M46.0,232.0C46.0,232.3 45.8,232.6 45.6,232.8C45.4,233.0 45.1,233.2 44.8,233.2C44.5,233.2 44.2,233.0 44.0,232.8C43.8,232.6 43.6,232.3 43.6,232.0C43.6,231.7 43.8,231.4 44.0,231.2C44.2,231.0 44.5,230.8 44.8,230.8C45.1,230.8 45.4,231.0 45.6,231.2C45.8,231.4 46.0,231.7 46.0,232.0Z" fill="#d0da88"/>
<path d="M41.0,254.0C42.2,252.5 43.8,251.1 45.0,250.0C46.2,248.9 46.6,248.1 48.3,247.5C50.0,246.9 52.8,246.7 55.0,246.7C57.2,246.7 60.2,246.7 61.7,247.5C63.2,248.3 63.5,249.9 64.2,251.7C64.9,253.5 65.8,256.6 65.8,258.3C65.8,260.0 64.8,260.6 64.5,262.0C64.2,263.4 64.2,264.2 64.2,266.7C64.2,269.1 64.5,273.6 64.2,276.7C63.9,279.8 63.3,282.6 62.5,285.0C61.7,287.4 60.5,290.0 59.2,290.8C58.0,291.6 56.5,290.4 55.0,290.0C53.5,289.6 52.0,288.9 50.0,288.3C48.0,287.8 45.5,287.5 43.3,286.7C41.1,285.9 38.5,284.7 36.7,283.3C34.9,281.9 33.5,280.1 32.5,278.3C31.5,276.5 30.9,274.4 30.8,272.5C30.7,270.6 31.0,268.2 31.7,266.7C32.4,265.2 34.0,264.6 35.0,263.3C36.0,262.0 37.0,260.6 38.0,259.0C39.0,257.4 39.8,255.5 41.0,254.0Z" fill="#d0da88"/>
<path d="M61.7,253.0C61.7,253.8 61.0,254.9 60.2,255.5C59.3,256.1 57.7,256.6 56.5,256.6C55.3,256.6 53.7,256.1 52.8,255.5C52.0,254.9 51.3,253.8 51.3,253.0C51.3,252.2 52.0,251.1 52.8,250.5C53.7,249.9 55.3,249.4 56.5,249.4C57.7,249.4 59.3,249.9 60.2,250.5C61.0,251.1 61.7,252.2 61.7,253.0Z" fill="#f2eca0"/>
<path d="M38.3,273.3C38.3,271.9 40.0,271.0 41.7,270.0C43.4,269.0 46.4,268.3 48.3,267.5C50.2,266.7 51.8,265.1 53.3,265.0C54.8,264.9 56.1,265.7 57.5,266.7C58.9,267.7 60.7,269.1 61.7,270.8C62.7,272.5 63.3,274.9 63.3,276.7C63.3,278.5 62.7,280.6 61.7,281.7C60.7,282.8 58.9,283.3 57.5,283.3C56.1,283.3 54.8,282.2 53.3,281.7C51.8,281.1 50.2,280.6 48.3,280.0C46.4,279.4 43.4,279.4 41.7,278.3C40.0,277.2 38.3,274.7 38.3,273.3Z" fill="#f2eca0"/>
<path d="M58.3,274.6C58.3,275.1 58.0,275.8 57.6,276.2C57.2,276.6 56.4,276.9 55.8,276.9C55.2,276.9 54.4,276.6 54.0,276.2C53.6,275.8 53.3,275.1 53.3,274.6C53.3,274.1 53.6,273.4 54.0,273.0C54.4,272.6 55.2,272.3 55.8,272.3C56.4,272.3 57.2,272.6 57.6,273.0C58.0,273.4 58.3,274.1 58.3,274.6Z" fill="#f6e598"/>
<path d="M11.7,261.7C14.0,261.5 15.2,260.4 16.7,260.8C18.2,261.2 20.1,262.8 20.8,264.2C21.5,265.6 21.5,267.9 20.8,269.2C20.1,270.4 18.2,271.4 16.7,271.7C15.2,272.0 14.0,271.4 11.7,270.8C9.4,270.2 4.5,269.5 3.0,268.0C1.6,266.5 1.6,263.1 3.0,262.0C4.5,260.9 9.4,261.9 11.7,261.7Z" fill="#d0da88"/>
<path d="M75.8,260.0C76.1,258.4 76.0,257.9 76.7,256.7C77.4,255.4 78.6,253.5 80.0,252.5C81.4,251.5 83.5,250.7 85.0,250.8C86.5,250.9 88.2,252.1 89.2,253.3C90.2,254.6 90.5,256.4 90.8,258.3C91.1,260.2 91.1,262.8 90.8,265.0C90.5,267.2 90.2,269.9 89.2,271.7C88.2,273.5 86.5,275.0 85.0,275.8C83.5,276.6 81.4,277.1 80.0,276.7C78.6,276.3 77.5,275.1 76.7,273.3C75.9,271.5 75.2,268.2 75.0,266.0C74.8,263.8 75.5,261.6 75.8,260.0Z" fill="#729b52"/>
<path d="M100.8,258.0C101.3,256.9 102.0,256.7 103.0,256.5C104.0,256.3 105.8,256.3 107.0,256.7C108.2,257.1 109.2,257.6 110.0,259.0C110.8,260.4 110.6,263.6 111.7,265.0C112.8,266.4 115.0,267.2 116.7,267.5C118.4,267.8 120.0,266.4 121.7,266.7C123.4,267.0 125.5,268.1 126.7,269.2C128.0,270.3 128.8,271.5 129.2,273.3C129.6,275.1 129.3,277.8 129.2,280.0C129.0,282.2 128.5,284.5 128.3,286.7C128.2,288.9 128.2,291.1 128.3,293.3C128.5,295.5 128.8,297.8 129.2,300.0C129.6,302.2 130.2,304.5 130.8,306.7C131.4,308.9 132.3,311.2 132.5,313.3C132.7,315.4 132.5,317.5 131.7,319.2C130.9,320.9 129.2,322.6 127.5,323.3C125.8,324.0 123.5,324.1 121.7,323.3C119.9,322.5 118.4,320.2 116.7,318.3C115.0,316.4 113.2,313.9 111.7,311.7C110.2,309.5 108.3,306.9 107.5,305.0C106.7,303.1 106.6,301.9 106.7,300.0C106.8,298.1 107.9,295.5 108.3,293.3C108.7,291.1 109.6,288.4 109.2,286.7C108.8,285.0 107.5,283.9 105.8,283.3C104.1,282.7 101.3,282.7 99.2,283.3C97.1,283.9 94.5,286.4 93.3,286.7C92.0,287.0 91.4,285.8 91.7,285.0C92.0,284.2 93.6,282.5 95.0,281.7C96.4,280.9 98.6,280.8 100.0,280.0C101.4,279.2 102.5,278.4 103.3,276.7C104.1,275.0 105.0,271.8 105.0,270.0C105.0,268.2 104.1,266.9 103.3,265.8C102.5,264.7 100.4,264.6 100.0,263.3C99.6,262.0 100.3,259.1 100.8,258.0Z" fill="#d0da88"/>
<path d="M112.5,298.3C112.5,296.5 112.5,294.2 113.3,292.5C114.1,290.8 116.1,288.9 117.5,288.3C118.9,287.8 120.7,288.1 121.7,289.2C122.7,290.3 122.5,293.1 123.3,295.0C124.1,296.9 126.3,299.0 126.7,300.8C127.1,302.6 126.6,304.6 125.8,305.8C125.0,307.1 123.2,308.4 121.7,308.3C120.2,308.2 118.1,305.8 116.7,305.0C115.3,304.2 114.0,304.4 113.3,303.3C112.6,302.2 112.5,300.1 112.5,298.3Z" fill="#f2eca0"/>
<path d="M125.8,313.8C125.8,314.5 125.4,315.4 124.8,315.9C124.3,316.3 123.3,316.7 122.5,316.7C121.7,316.7 120.7,316.3 120.2,315.9C119.6,315.4 119.2,314.5 119.2,313.8C119.2,313.1 119.6,312.2 120.2,311.7C120.7,311.3 121.7,310.9 122.5,310.9C123.3,310.9 124.3,311.3 124.8,311.7C125.4,312.2 125.8,313.1 125.8,313.8Z" fill="#f2eca0"/>
<path d="M137.8,322.0C137.8,323.1 137.5,324.4 137.2,325.2C136.9,325.9 136.3,326.5 135.8,326.5C135.3,326.5 134.7,325.9 134.4,325.2C134.1,324.4 133.8,323.1 133.8,322.0C133.8,320.9 134.1,319.6 134.4,318.8C134.7,318.1 135.3,317.5 135.8,317.5C136.3,317.5 136.9,318.1 137.2,318.8C137.5,319.6 137.8,320.9 137.8,322.0Z" fill="#d0da88"/>
<path d="M10.0,290.0C10.6,283.6 16.2,292.0 18.3,291.7C20.4,291.4 21.0,289.0 22.5,288.3C24.0,287.6 26.1,286.9 27.5,287.5C28.9,288.1 29.6,290.3 30.8,291.7C32.0,293.1 32.9,295.0 35.0,295.8C37.1,296.6 40.8,296.4 43.3,296.7C45.8,297.0 48.3,296.7 50.0,297.5C51.7,298.3 53.0,300.2 53.3,301.7C53.6,303.2 52.8,305.2 52.0,306.6C51.2,308.0 49.5,309.1 48.4,310.2C47.3,311.3 45.8,311.8 45.4,313.1C45.0,314.4 45.6,316.5 46.2,318.2C46.8,319.9 48.4,321.6 49.1,323.4C49.8,325.2 50.6,327.5 50.5,329.2C50.4,330.9 49.7,332.4 48.4,333.6C47.1,334.8 44.7,336.0 42.5,336.5C40.3,337.0 37.4,337.0 35.2,336.5C33.0,336.0 31.1,334.8 29.4,333.6C27.7,332.4 27.4,329.8 25.0,329.2C22.6,328.6 17.5,336.5 15.0,330.0C12.5,323.5 9.4,296.4 10.0,290.0Z" fill="#729b52"/>
<path d="M25.2,313.0C25.2,314.2 24.9,315.7 24.6,316.5C24.2,317.4 23.5,318.0 23.0,318.0C22.5,318.0 21.8,317.4 21.4,316.5C21.1,315.7 20.8,314.2 20.8,313.0C20.8,311.8 21.1,310.3 21.4,309.5C21.8,308.6 22.5,308.0 23.0,308.0C23.5,308.0 24.2,308.6 24.6,309.5C24.9,310.3 25.2,311.8 25.2,313.0Z" fill="#a4ba66"/>
<path d="M60.0,304.4C60.1,302.8 60.2,301.5 60.8,300.5C61.3,299.5 62.0,299.2 63.3,298.3C64.5,297.4 66.3,295.8 68.3,295.0C70.2,294.2 72.8,293.4 75.0,293.3C77.2,293.2 79.5,293.9 81.7,294.5C83.9,295.1 86.1,295.8 88.3,296.7C90.5,297.6 93.1,299.1 95.0,300.0C96.9,300.9 98.4,300.8 99.5,302.0C100.6,303.2 101.4,305.4 101.6,307.3C101.8,309.2 101.5,311.2 100.9,313.1C100.3,315.1 99.2,317.3 98.0,319.0C96.8,320.7 95.1,322.1 93.6,323.4C92.1,324.7 90.9,326.5 89.2,327.0C87.5,327.5 85.1,326.2 83.4,326.3C81.7,326.4 80.1,326.7 79.0,327.7C77.9,328.7 77.5,330.2 76.8,332.1C76.1,334.1 76.1,336.8 74.6,339.4C73.1,342.0 69.9,346.6 68.0,348.0C66.1,349.4 63.8,349.2 63.0,348.0C62.2,346.8 63.2,343.8 63.0,340.9C62.8,338.0 61.9,334.1 61.5,330.7C61.1,327.3 61.0,323.8 60.8,320.4C60.5,317.0 60.1,312.9 60.0,310.2C59.9,307.5 59.9,306.0 60.0,304.4Z" fill="#729b52"/>
<path d="M99.5,335.0C100.5,332.6 102.3,329.6 103.8,327.7C105.2,325.8 106.7,323.6 108.2,323.4C109.7,323.2 111.1,325.1 112.6,326.3C114.1,327.5 115.6,329.2 117.0,330.7C118.4,332.1 122.2,333.1 121.0,335.0C119.8,336.9 113.8,340.8 110.0,342.0C106.2,343.2 99.8,343.2 98.0,342.0C96.2,340.8 98.5,337.4 99.5,335.0Z" fill="#729b52"/>
</g>
<polygon points="1,233.2 120.5,198.2 148.8,325.1 32.4,356.3" fill="none" stroke="#2a2a2a" stroke-width="1"/>
<clipPath id="c5"><polygon points="174.2,233.4 294.9,198.4 322.8,325.1 206.5,355.5"/></clipPath>
<polygon points="174.2,233.4 294.9,198.4 322.8,325.1 206.5,355.5" fill="#a4ba66"/>
<g clip-path="url(#c5)">
<path d="M211.0,282.0C209.7,279.9 207.2,278.0 207.0,276.0C206.8,274.0 208.7,271.8 210.0,270.0C211.3,268.2 213.1,266.7 215.0,265.0C216.9,263.3 219.4,262.1 221.3,260.0C223.2,257.9 224.9,254.8 226.3,252.5C227.8,250.2 228.6,248.4 230.0,246.3C231.4,244.2 233.3,241.9 235.0,240.0C236.7,238.1 238.5,236.9 240.0,235.0C241.5,233.1 242.3,230.5 243.8,228.8C245.3,227.1 247.5,225.8 248.8,225.0C250.1,224.2 250.4,224.9 251.7,224.2C253.0,223.5 255.7,222.2 256.7,220.8C257.7,219.4 257.5,217.5 257.5,215.8C257.5,214.1 256.9,212.6 256.7,210.8C256.4,209.0 255.8,207.6 256.0,205.0C256.2,202.4 252.0,197.5 258.0,195.0C264.0,192.5 286.4,188.9 292.0,190.0C297.6,191.1 291.9,198.6 291.7,201.7C291.5,204.8 291.1,206.4 290.8,208.3C290.5,210.2 291.0,211.9 290.0,213.3C289.0,214.7 286.9,215.7 285.0,216.7C283.1,217.7 280.2,218.9 278.3,219.2C276.4,219.5 275.2,218.7 273.3,218.3C271.4,217.9 268.4,216.4 266.7,216.7C265.0,217.0 263.7,218.8 263.3,220.0C262.9,221.2 263.6,222.9 264.2,224.2C264.8,225.4 265.4,226.4 266.7,227.5C267.9,228.6 270.0,230.1 271.7,230.8C273.4,231.5 274.8,231.7 276.7,231.7C278.6,231.7 281.4,230.7 283.3,230.8C285.2,230.9 286.6,231.8 288.3,232.5C290.0,233.2 291.6,234.0 293.3,235.0C295.0,236.0 296.6,237.1 298.3,238.3C300.0,239.6 301.0,241.2 303.3,242.5C305.6,243.8 307.6,229.8 312.0,246.0C316.4,262.2 339.0,322.7 330.0,340.0C321.0,357.3 270.2,349.7 258.0,350.0C245.8,350.3 256.4,344.2 256.7,341.7C257.0,339.2 259.2,337.2 260.0,335.0C260.8,332.8 261.1,330.5 261.7,328.3C262.2,326.1 262.6,323.9 263.3,321.7C264.0,319.5 265.0,317.2 265.8,315.0C266.6,312.8 267.6,310.5 268.3,308.3C269.0,306.1 270.0,304.2 270.0,301.7C270.0,299.2 269.4,295.8 268.3,293.3C267.2,290.8 265.2,288.4 263.3,286.7C261.4,285.0 258.9,283.7 256.7,283.3C254.5,282.9 252.8,283.1 250.0,284.2C247.2,285.3 243.3,288.6 240.0,290.0C236.7,291.4 233.3,292.2 230.0,292.5C226.7,292.8 222.5,292.4 220.0,291.7C217.5,291.0 216.5,289.9 215.0,288.3C213.5,286.7 212.3,284.1 211.0,282.0Z" fill="#d0da88"/>
<path d="M281.0,208.5C281.0,209.2 280.2,210.1 279.2,210.6C278.2,211.1 276.4,211.5 275.0,211.5C273.6,211.5 271.8,211.1 270.8,210.6C269.8,210.1 269.0,209.2 269.0,208.5C269.0,207.8 269.8,206.9 270.8,206.4C271.8,205.9 273.6,205.5 275.0,205.5C276.4,205.5 278.2,205.9 279.2,206.4C280.2,206.9 281.0,207.8 281.0,208.5Z" fill="#a4ba66"/>
<path d="M277.3,215.8C277.3,216.2 277.1,216.6 276.9,216.9C276.6,217.1 276.2,217.3 275.8,217.3C275.4,217.3 275.0,217.1 274.7,216.9C274.5,216.6 274.3,216.2 274.3,215.8C274.3,215.4 274.5,215.0 274.7,214.7C275.0,214.5 275.4,214.3 275.8,214.3C276.2,214.3 276.6,214.5 276.9,214.7C277.1,215.0 277.3,215.4 277.3,215.8Z" fill="#d0da88"/>
<path d="M288.0,212.5C288.0,212.8 287.8,213.2 287.6,213.4C287.4,213.6 287.0,213.8 286.7,213.8C286.4,213.8 286.0,213.6 285.8,213.4C285.6,213.2 285.4,212.8 285.4,212.5C285.4,212.2 285.6,211.8 285.8,211.6C286.0,211.4 286.4,211.2 286.7,211.2C287.0,211.2 287.4,211.4 287.6,211.6C287.8,211.8 288.0,212.2 288.0,212.5Z" fill="#d0da88"/>
<path d="M264.8,210.8C264.8,211.3 264.6,211.9 264.4,212.2C264.1,212.5 263.7,212.8 263.3,212.8C262.9,212.8 262.5,212.5 262.2,212.2C262.0,211.9 261.8,211.3 261.8,210.8C261.8,210.3 262.0,209.7 262.2,209.4C262.5,209.1 262.9,208.8 263.3,208.8C263.7,208.8 264.1,209.1 264.4,209.4C264.6,209.7 264.8,210.3 264.8,210.8Z" fill="#f2eca0"/>
<path d="M178.3,245.0C178.9,240.9 180.4,243.2 181.7,243.3C182.9,243.4 184.4,244.7 185.8,245.8C187.2,246.9 188.5,248.2 190.0,250.0C191.5,251.8 193.9,254.5 195.0,256.7C196.1,258.9 196.7,261.1 196.7,263.3C196.7,265.5 195.6,268.1 195.0,270.0C194.4,271.9 194.5,273.7 193.3,275.0C192.1,276.3 189.9,277.8 188.0,278.0C186.1,278.2 183.7,277.7 182.0,276.0C180.3,274.3 178.6,273.2 178.0,268.0C177.4,262.8 177.7,249.1 178.3,245.0Z" fill="#d0da88"/>
<path d="M194.0,264.0C194.0,265.3 193.4,267.0 192.5,267.9C191.7,268.8 190.2,269.5 189.0,269.5C187.8,269.5 186.3,268.8 185.5,267.9C184.6,267.0 184.0,265.3 184.0,264.0C184.0,262.7 184.6,261.0 185.5,260.1C186.3,259.2 187.8,258.5 189.0,258.5C190.2,258.5 191.7,259.2 192.5,260.1C193.4,261.0 194.0,262.7 194.0,264.0Z" fill="#f2eca0"/>
<path d="M191.5,264.0C191.5,264.7 191.2,265.6 190.8,266.1C190.4,266.6 189.6,267.0 189.0,267.0C188.4,267.0 187.6,266.6 187.2,266.1C186.8,265.6 186.5,264.7 186.5,264.0C186.5,263.3 186.8,262.4 187.2,261.9C187.6,261.4 188.4,261.0 189.0,261.0C189.6,261.0 190.4,261.4 190.8,261.9C191.2,262.4 191.5,263.3 191.5,264.0Z" fill="#f6e598"/>
<path d="M220.0,278.0C219.8,275.8 221.2,274.2 222.0,272.0C222.8,269.8 223.7,267.6 225.0,265.0C226.3,262.4 228.8,259.0 230.0,256.3C231.2,253.6 231.2,250.9 232.5,248.8C233.8,246.7 235.8,245.7 237.5,243.8C239.2,241.9 241.2,239.2 242.5,237.5C243.8,235.8 243.8,235.1 245.0,233.8C246.2,232.6 248.3,230.9 250.0,230.0C251.7,229.1 253.5,228.8 255.0,228.5C256.5,228.2 257.7,227.6 258.8,228.0C259.9,228.4 261.0,229.7 261.5,231.0C262.0,232.3 262.2,234.3 262.0,236.0C261.8,237.7 261.3,239.6 260.5,241.0C259.7,242.4 258.4,243.3 257.0,244.5C255.6,245.7 253.2,246.6 252.0,248.0C250.8,249.4 250.1,251.2 249.5,253.0C248.9,254.8 248.5,257.0 248.5,259.0C248.5,261.0 249.2,263.0 249.5,265.0C249.8,267.0 250.3,268.9 250.0,271.0C249.7,273.1 248.8,275.7 247.5,277.5C246.2,279.3 244.1,280.4 242.0,281.7C239.9,282.9 237.3,284.2 235.0,285.0C232.7,285.8 230.2,286.7 228.3,286.7C226.4,286.7 224.7,286.4 223.3,285.0C221.9,283.6 220.2,280.2 220.0,278.0Z" fill="#f2eca0"/>
<path d="M231.3,259.0C232.4,257.2 233.8,255.6 235.4,254.9C237.0,254.2 239.0,254.2 240.8,254.9C242.6,255.6 245.1,257.2 246.3,259.0C247.6,260.8 248.3,263.5 248.3,265.8C248.3,268.1 247.3,270.6 246.3,272.6C245.3,274.6 243.8,276.6 242.2,278.0C240.6,279.4 238.5,280.5 236.7,280.7C234.9,280.9 232.7,280.4 231.3,279.3C230.0,278.2 229.1,276.1 228.6,273.9C228.1,271.6 228.1,268.3 228.6,265.8C229.1,263.3 230.2,260.8 231.3,259.0Z" fill="#f6e598"/>
<path d="M233.0,259.5C233.7,257.9 235.6,257.7 237.0,257.5C238.4,257.3 240.4,257.6 241.5,258.5C242.6,259.4 243.2,261.2 243.5,263.0C243.8,264.8 243.6,267.5 243.0,269.0C242.4,270.5 241.2,271.6 240.0,272.0C238.8,272.4 236.7,272.3 235.5,271.5C234.3,270.7 233.1,269.0 232.7,267.0C232.3,265.0 232.3,261.1 233.0,259.5Z" fill="#f5d88a"/>
<path d="M253.0,240.6C253.0,241.4 252.5,242.4 251.8,243.0C251.2,243.6 249.9,244.0 249.0,244.0C248.1,244.0 246.8,243.6 246.2,243.0C245.5,242.4 245.0,241.4 245.0,240.6C245.0,239.8 245.5,238.8 246.2,238.2C246.8,237.6 248.1,237.2 249.0,237.2C249.9,237.2 251.2,237.6 251.8,238.2C252.5,238.8 253.0,239.8 253.0,240.6Z" fill="#f6e598"/>
<path d="M263.8,251.3C263.9,250.2 264.2,248.1 265.0,246.9C265.8,245.8 267.3,245.3 268.8,244.4C270.3,243.5 271.9,242.0 273.8,241.3C275.7,240.6 278.1,240.4 280.0,240.0C281.9,239.6 283.1,238.5 285.0,238.8C286.9,239.1 289.2,240.9 291.3,241.9C293.4,242.9 295.6,244.3 297.5,245.0C299.4,245.7 300.1,246.1 302.5,246.3C304.9,246.5 307.4,229.6 312.0,246.0C316.6,262.4 332.8,328.5 330.0,345.0C327.2,361.5 300.6,346.7 295.0,345.0C289.4,343.3 296.3,338.1 296.7,335.0C297.1,331.9 297.5,329.5 297.5,326.7C297.5,323.9 297.4,320.8 296.7,318.3C296.0,315.8 294.7,313.6 293.3,311.7C291.9,309.8 290.0,308.4 288.3,306.7C286.6,305.0 284.5,303.6 283.3,301.7C282.1,299.8 281.1,297.4 281.0,295.0C280.9,292.6 281.8,289.6 282.5,287.5C283.2,285.4 284.4,284.2 285.0,282.5C285.6,280.8 285.9,279.2 286.3,277.5C286.7,275.8 287.1,274.2 287.5,272.5C287.9,270.8 288.8,269.2 288.8,267.5C288.8,265.8 288.3,263.9 287.5,262.5C286.7,261.1 285.1,259.8 283.8,258.8C282.6,257.8 281.5,256.8 280.0,256.3C278.5,255.8 276.0,255.5 275.0,255.6C274.0,255.7 273.6,256.4 273.8,256.9C274.0,257.4 275.5,258.1 276.3,258.8C277.1,259.5 278.3,260.1 278.8,261.3C279.3,262.6 279.5,264.6 279.4,266.3C279.3,268.0 278.8,270.3 278.1,271.3C277.4,272.3 275.9,272.7 275.0,272.5C274.1,272.3 273.1,271.2 272.5,270.0C271.9,268.8 271.7,266.7 271.3,265.0C270.9,263.3 270.6,261.4 270.0,260.0C269.4,258.6 268.4,257.3 267.5,256.3C266.6,255.3 265.0,254.6 264.4,253.8C263.8,253.0 263.7,252.5 263.8,251.3Z" fill="#f2eca0"/>
<path d="M287.5,246.8C287.5,247.8 286.8,249.1 285.9,249.8C285.0,250.6 283.3,251.1 282.0,251.1C280.7,251.1 279.0,250.6 278.1,249.8C277.2,249.1 276.5,247.8 276.5,246.8C276.5,245.8 277.2,244.5 278.1,243.8C279.0,243.0 280.7,242.5 282.0,242.5C283.3,242.5 285.0,243.0 285.9,243.8C286.8,244.5 287.5,245.8 287.5,246.8Z" fill="#f6e598"/>
<path d="M290.0,250.0C291.2,248.5 293.8,248.5 296.0,249.0C298.2,249.5 300.7,251.2 303.0,253.0C305.3,254.8 307.8,257.5 310.0,260.0C312.2,262.5 315.0,261.3 316.0,268.0C317.0,274.7 316.7,293.3 316.0,300.0C315.3,306.7 314.7,306.5 312.0,308.0C309.3,309.5 303.3,309.7 300.0,309.0C296.7,308.3 294.1,306.2 292.0,304.0C289.9,301.8 288.3,299.0 287.5,296.0C286.7,293.0 286.8,289.3 287.0,286.0C287.2,282.7 288.3,279.3 289.0,276.0C289.7,272.7 291.0,269.0 291.0,266.0C291.0,263.0 289.2,260.7 289.0,258.0C288.8,255.3 288.8,251.5 290.0,250.0Z" fill="#f6e598"/>
<path d="M298.8,255.6C298.8,256.6 298.2,257.9 297.3,258.6C296.5,259.4 295.0,259.9 293.8,259.9C292.6,259.9 291.1,259.4 290.3,258.6C289.4,257.9 288.8,256.6 288.8,255.6C288.8,254.6 289.4,253.3 290.3,252.6C291.1,251.8 292.6,251.3 293.8,251.3C295.0,251.3 296.5,251.8 297.3,252.6C298.2,253.3 298.8,254.6 298.8,255.6Z" fill="#f5d88a"/>
<path d="M292.0,270.0C293.8,268.0 297.0,266.0 300.0,266.0C303.0,266.0 307.5,267.7 310.0,270.0C312.5,272.3 314.2,275.0 315.0,280.0C315.8,285.0 315.8,295.7 315.0,300.0C314.2,304.3 312.5,305.0 310.0,306.0C307.5,307.0 302.8,306.7 300.0,306.0C297.2,305.3 294.9,303.8 293.0,302.0C291.1,300.2 289.3,297.6 288.5,295.0C287.7,292.4 287.8,289.5 288.0,286.7C288.2,283.9 288.8,280.8 289.5,278.0C290.2,275.2 290.2,272.0 292.0,270.0Z" fill="#f5d88a"/>
<path d="M293.0,272.0C294.3,270.7 297.5,270.0 300.0,270.0C302.5,270.0 306.0,270.3 308.0,272.0C310.0,273.7 311.2,276.0 312.0,280.0C312.8,284.0 313.7,292.2 313.0,296.0C312.3,299.8 310.3,301.7 308.0,303.0C305.7,304.3 301.3,304.8 299.0,304.0C296.7,303.2 295.2,300.7 294.0,298.0C292.8,295.3 292.3,291.3 292.0,288.0C291.7,284.7 291.8,280.7 292.0,278.0C292.2,275.3 291.7,273.3 293.0,272.0Z" fill="#f2cc78"/>
<path d="M298.3,277.3C298.9,275.7 300.3,275.1 301.7,275.3C303.1,275.5 305.3,277.0 306.7,278.3C308.1,279.6 309.6,281.4 310.0,283.3C310.4,285.2 309.9,287.9 309.2,290.0C308.5,292.1 306.9,294.7 305.8,295.8C304.7,296.9 303.6,297.3 302.5,296.7C301.4,296.1 300.3,293.9 299.5,292.0C298.7,290.1 298.0,287.4 297.8,285.0C297.6,282.6 297.7,278.9 298.3,277.3Z" fill="#d4a482"/>
<path d="M314.5,322.5C314.5,323.9 313.7,325.6 312.6,326.6C311.5,327.6 309.5,328.3 308.0,328.3C306.5,328.3 304.5,327.6 303.4,326.6C302.3,325.6 301.5,323.9 301.5,322.5C301.5,321.1 302.3,319.4 303.4,318.4C304.5,317.4 306.5,316.7 308.0,316.7C309.5,316.7 311.5,317.4 312.6,318.4C313.7,319.4 314.5,321.1 314.5,322.5Z" fill="#f5d88a"/>
<path d="M281.0,323.8C281.0,325.4 280.1,327.6 278.9,328.7C277.8,329.9 275.6,330.8 274.0,330.8C272.4,330.8 270.2,329.9 269.1,328.7C267.9,327.6 267.0,325.4 267.0,323.8C267.0,322.2 267.9,320.0 269.1,318.9C270.2,317.7 272.4,316.8 274.0,316.8C275.6,316.8 277.8,317.7 278.9,318.9C280.1,320.0 281.0,322.2 281.0,323.8Z" fill="#f2eca0"/>
<path d="M278.3,325.0C278.3,325.8 277.8,326.8 277.2,327.3C276.6,327.9 275.4,328.3 274.5,328.3C273.6,328.3 272.4,327.9 271.8,327.3C271.2,326.8 270.7,325.8 270.7,325.0C270.7,324.2 271.2,323.2 271.8,322.7C272.4,322.1 273.6,321.7 274.5,321.7C275.4,321.7 276.6,322.1 277.2,322.7C277.8,323.2 278.3,324.2 278.3,325.0Z" fill="#f6e598"/>
<path d="M176.7,233.3C178.6,232.4 179.5,231.7 181.7,230.8C183.9,229.9 188.3,227.3 190.0,228.0C191.7,228.7 191.3,233.0 191.7,235.0C192.1,237.0 191.8,238.5 192.5,240.0C193.2,241.5 195.4,242.9 195.8,244.2C196.2,245.4 195.7,246.8 195.0,247.5C194.3,248.2 192.8,248.7 191.7,248.3C190.6,247.9 189.4,246.1 188.3,245.0C187.2,243.9 186.4,242.7 185.0,241.7C183.6,240.7 181.4,239.8 180.0,239.2C178.6,238.6 178.4,238.8 176.7,238.3C175.0,237.8 170.0,236.8 170.0,236.0C170.0,235.2 174.8,234.2 176.7,233.3Z" fill="#729b52"/>
<path d="M232.3,221.5C232.3,222.3 231.8,223.4 231.2,224.0C230.6,224.6 229.4,225.0 228.5,225.0C227.6,225.0 226.4,224.6 225.8,224.0C225.2,223.4 224.7,222.3 224.7,221.5C224.7,220.7 225.2,219.6 225.8,219.0C226.4,218.4 227.6,218.0 228.5,218.0C229.4,218.0 230.6,218.4 231.2,219.0C231.8,219.6 232.3,220.7 232.3,221.5Z" fill="#729b52"/>
<path d="M200.0,278.3C201.2,277.6 203.1,276.4 204.2,276.7C205.3,277.0 206.3,278.1 206.7,280.0C207.0,281.9 206.2,285.5 206.3,288.3C206.4,291.1 206.8,293.6 207.5,296.7C208.2,299.8 210.0,303.6 210.8,306.7C211.6,309.8 212.2,312.2 212.5,315.0C212.8,317.8 212.9,321.1 212.5,323.3C212.1,325.5 211.1,327.6 210.0,328.3C208.9,329.0 206.8,328.6 205.8,327.5C204.8,326.4 204.8,324.1 204.2,321.7C203.6,319.3 203.2,316.1 202.5,313.3C201.8,310.5 200.8,307.8 200.0,305.0C199.2,302.2 198.5,299.2 197.5,296.7C196.5,294.2 194.8,291.9 194.2,290.0C193.6,288.1 193.8,286.5 194.2,285.0C194.6,283.5 195.7,281.9 196.7,280.8C197.7,279.7 198.8,279.0 200.0,278.3Z" fill="#729b52"/>
<path d="M256.7,302.5C257.5,302.8 258.4,304.9 258.3,306.7C258.2,308.5 256.9,311.1 255.8,313.3C254.7,315.5 253.1,318.2 251.7,320.0C250.3,321.8 248.5,324.1 247.5,324.2C246.5,324.3 245.7,322.3 245.8,320.8C245.9,319.3 247.5,316.8 248.3,315.0C249.1,313.2 250.0,311.7 250.8,310.0C251.6,308.3 252.3,306.2 253.3,305.0C254.3,303.8 255.9,302.2 256.7,302.5Z" fill="#729b52"/>
<path d="M261.6,262.5C261.6,263.3 261.2,264.3 260.6,264.8C260.1,265.4 259.1,265.8 258.3,265.8C257.5,265.8 256.5,265.4 256.0,264.8C255.4,264.3 255.0,263.3 255.0,262.5C255.0,261.7 255.4,260.7 256.0,260.2C256.5,259.6 257.5,259.2 258.3,259.2C259.1,259.2 260.1,259.6 260.6,260.2C261.2,260.7 261.6,261.7 261.6,262.5Z" fill="#729b52"/>
<path d="M247.8,299.2C247.8,299.6 247.5,300.2 247.2,300.5C246.9,300.8 246.3,301.0 245.8,301.0C245.3,301.0 244.7,300.8 244.4,300.5C244.1,300.2 243.8,299.6 243.8,299.2C243.8,298.8 244.1,298.2 244.4,297.9C244.7,297.6 245.3,297.4 245.8,297.4C246.3,297.4 246.9,297.6 247.2,297.9C247.5,298.2 247.8,298.8 247.8,299.2Z" fill="#729b52"/>
<path d="M249.5,333.0C249.5,333.3 249.3,333.6 249.1,333.8C248.9,334.0 248.6,334.2 248.3,334.2C248.0,334.2 247.7,334.0 247.5,333.8C247.3,333.6 247.1,333.3 247.1,333.0C247.1,332.7 247.3,332.4 247.5,332.2C247.7,332.0 248.0,331.8 248.3,331.8C248.6,331.8 248.9,332.0 249.1,332.2C249.3,332.4 249.5,332.7 249.5,333.0Z" fill="#729b52"/>
<path d="M276.3,285.0C276.3,285.3 276.1,285.7 275.9,285.9C275.7,286.1 275.3,286.3 275.0,286.3C274.7,286.3 274.3,286.1 274.1,285.9C273.9,285.7 273.7,285.3 273.7,285.0C273.7,284.7 273.9,284.3 274.1,284.1C274.3,283.9 274.7,283.7 275.0,283.7C275.3,283.7 275.7,283.9 275.9,284.1C276.1,284.3 276.3,284.7 276.3,285.0Z" fill="#729b52"/>
<path d="M277.1,309.2C277.1,309.5 276.9,309.9 276.7,310.1C276.5,310.3 276.1,310.5 275.8,310.5C275.5,310.5 275.1,310.3 274.9,310.1C274.7,309.9 274.5,309.5 274.5,309.2C274.5,308.9 274.7,308.5 274.9,308.3C275.1,308.1 275.5,307.9 275.8,307.9C276.1,307.9 276.5,308.1 276.7,308.3C276.9,308.5 277.1,308.9 277.1,309.2Z" fill="#729b52"/>
<path d="M290.7,322.5C290.7,322.9 290.5,323.3 290.3,323.6C290.0,323.8 289.6,324.0 289.2,324.0C288.8,324.0 288.4,323.8 288.1,323.6C287.9,323.3 287.7,322.9 287.7,322.5C287.7,322.1 287.9,321.7 288.1,321.4C288.4,321.2 288.8,321.0 289.2,321.0C289.6,321.0 290.0,321.2 290.3,321.4C290.5,321.7 290.7,322.1 290.7,322.5Z" fill="#729b52"/>
<path d="M221.7,300.3C221.7,300.8 221.4,301.4 221.1,301.7C220.8,302.0 220.2,302.3 219.7,302.3C219.2,302.3 218.6,302.0 218.3,301.7C218.0,301.4 217.7,300.8 217.7,300.3C217.7,299.8 218.0,299.2 218.3,298.9C218.6,298.6 219.2,298.3 219.7,298.3C220.2,298.3 220.8,298.6 221.1,298.9C221.4,299.2 221.7,299.8 221.7,300.3Z" fill="#d0da88"/>
<path d="M260.0,278.8C260.0,279.3 259.7,279.9 259.4,280.2C259.1,280.5 258.5,280.8 258.0,280.8C257.5,280.8 256.9,280.5 256.6,280.2C256.3,279.9 256.0,279.3 256.0,278.8C256.0,278.3 256.3,277.7 256.6,277.4C256.9,277.1 257.5,276.8 258.0,276.8C258.5,276.8 259.1,277.1 259.4,277.4C259.7,277.7 260.0,278.3 260.0,278.8Z" fill="#d0da88"/>
<path d="M219.2,248.0C219.2,249.2 218.7,250.7 218.0,251.5C217.3,252.4 216.0,253.0 215.0,253.0C214.0,253.0 212.7,252.4 212.0,251.5C211.3,250.7 210.8,249.2 210.8,248.0C210.8,246.8 211.3,245.3 212.0,244.5C212.7,243.6 214.0,243.0 215.0,243.0C216.0,243.0 217.3,243.6 218.0,244.5C218.7,245.3 219.2,246.8 219.2,248.0Z" fill="#d0da88"/>
<path d="M206.7,336.0C207.2,332.8 208.6,332.0 210.0,331.0C211.4,330.0 213.5,329.5 215.0,330.0C216.5,330.5 218.2,332.0 219.0,334.0C219.8,336.0 220.7,339.3 220.0,342.0C219.3,344.7 217.2,348.7 215.0,350.0C212.8,351.3 208.4,352.3 207.0,350.0C205.6,347.7 206.2,339.2 206.7,336.0Z" fill="#d0da88"/>
<path d="M216.3,342.5C216.3,343.1 215.9,343.9 215.4,344.3C214.9,344.7 214.0,345.0 213.3,345.0C212.6,345.0 211.7,344.7 211.2,344.3C210.7,343.9 210.3,343.1 210.3,342.5C210.3,341.9 210.7,341.1 211.2,340.7C211.7,340.3 212.6,340.0 213.3,340.0C214.0,340.0 214.9,340.3 215.4,340.7C215.9,341.1 216.3,341.9 216.3,342.5Z" fill="#f2eca0"/>
<path d="M253.0,338.0C253.7,336.3 255.7,335.3 257.0,335.0C258.3,334.7 260.2,334.3 261.0,336.0C261.8,337.7 263.3,343.5 262.0,345.0C260.7,346.5 254.5,346.2 253.0,345.0C251.5,343.8 252.3,339.7 253.0,338.0Z" fill="#d0da88"/>
</g>
<polygon points="174.2,233.4 294.9,198.4 322.8,325.1 206.5,355.5" fill="none" stroke="#2a2a2a" stroke-width="1"/>
<clipPath id="c6"><polygon points="359.4,233.4 480.3,198.2 507.7,325.1 391.5,355.5"/></clipPath>
<polygon points="359.4,233.4 480.3,198.2 507.7,325.1 391.5,355.5" fill="#729b52"/>
<g clip-path="url(#c6)">
<path d="M430.8,235.0C430.7,232.8 431.5,230.2 432.5,228.3C433.5,226.4 434.9,224.4 436.7,223.3C438.5,222.2 441.4,221.7 443.3,221.7C445.2,221.7 447.1,222.2 448.3,223.3C449.6,224.4 450.1,226.6 450.8,228.3C451.5,230.0 451.5,233.2 452.5,233.3C453.5,233.5 454.9,230.4 456.7,229.2C458.5,227.9 460.8,226.5 463.3,225.8C465.8,225.1 469.2,224.8 471.7,225.0C474.2,225.2 476.4,225.6 478.3,226.7C480.2,227.8 481.9,229.8 483.3,231.7C484.7,233.6 485.6,236.1 486.7,238.3C487.8,240.5 487.8,244.7 490.0,245.0C492.2,245.3 495.0,225.8 500.0,240.0C505.0,254.2 536.7,309.2 520.0,330.0C503.3,350.8 424.7,368.3 400.0,365.0C375.3,361.7 375.3,319.7 372.0,310.0C368.7,300.3 378.1,306.7 380.0,306.7C381.9,306.7 382.2,308.9 383.3,310.0C384.4,311.1 385.7,311.9 386.7,313.3C387.7,314.7 388.5,316.4 389.2,318.3C389.9,320.2 390.1,322.8 390.8,325.0C391.5,327.2 392.5,329.8 393.3,331.7C394.1,333.6 394.7,335.0 395.8,336.7C396.9,338.4 398.6,341.1 400.0,341.7C401.4,342.2 403.1,341.1 404.2,340.0C405.3,338.9 406.4,336.9 406.7,335.0C407.0,333.1 406.1,330.8 405.8,328.3C405.5,325.8 404.9,322.5 405.0,320.0C405.1,317.5 405.9,315.5 406.7,313.3C407.5,311.1 408.6,308.6 410.0,306.7C411.4,304.8 413.6,303.4 415.0,301.7C416.4,300.0 417.2,298.6 418.3,296.7C419.4,294.8 420.3,291.9 421.7,290.0C423.1,288.1 425.0,286.1 426.7,285.0C428.4,283.9 430.3,283.6 431.7,283.3C433.1,283.0 433.6,283.7 435.0,283.3C436.4,282.9 438.1,281.6 440.0,280.8C441.9,280.0 444.5,278.6 446.7,278.3C448.9,278.0 451.6,279.8 453.3,279.2C455.0,278.6 455.6,276.2 456.7,275.0C457.8,273.8 458.6,272.0 460.0,271.7C461.4,271.4 463.1,272.5 465.0,273.3C466.9,274.1 470.0,275.2 471.7,276.7C473.4,278.2 474.0,280.8 475.0,282.5C476.0,284.2 476.9,286.3 477.5,286.7C478.1,287.1 478.8,286.4 478.7,285.0C478.6,283.6 477.2,280.5 476.7,278.3C476.2,276.1 476.2,273.9 475.8,271.7C475.4,269.5 474.9,266.9 474.2,265.0C473.5,263.1 472.7,261.1 471.7,260.0C470.7,258.9 469.7,258.6 468.3,258.3C466.9,258.0 465.2,258.6 463.3,258.0C461.4,257.4 458.4,256.3 456.7,255.0C455.0,253.7 454.3,251.7 453.3,250.0C452.3,248.3 452.2,245.7 450.8,245.0C449.4,244.3 447.1,245.8 445.0,245.8C442.9,245.8 440.2,245.7 438.3,245.0C436.4,244.3 434.6,243.4 433.3,241.7C432.1,240.0 430.9,237.2 430.8,235.0Z" fill="#a4ba66"/>
<path d="M392.5,255.0C393.2,254.0 394.9,253.2 396.7,252.5C398.5,251.8 401.1,250.9 403.3,250.8C405.5,250.7 407.8,251.4 410.0,251.7C412.2,252.0 414.5,252.2 416.7,252.5C418.9,252.8 421.5,252.6 423.3,253.3C425.1,254.0 426.8,255.3 427.5,256.7C428.2,258.1 428.2,260.3 427.5,261.7C426.8,263.1 425.1,264.3 423.3,265.0C421.5,265.7 418.9,265.8 416.7,265.8C414.5,265.8 412.2,265.0 410.0,265.0C407.8,265.0 405.2,265.8 403.3,265.8C401.4,265.8 399.8,265.7 398.3,265.0C396.8,264.3 395.2,262.8 394.2,261.7C393.2,260.6 392.8,259.4 392.5,258.3C392.2,257.2 391.8,256.0 392.5,255.0Z" fill="#a4ba66"/>
<path d="M367.5,258.3C368.8,257.6 370.2,257.4 372.0,257.5C373.8,257.6 376.2,258.1 378.0,259.0C379.8,259.9 381.7,261.2 382.5,263.0C383.3,264.8 383.1,267.8 383.0,270.0C382.9,272.2 382.9,274.5 381.7,276.0C380.5,277.5 377.9,278.7 376.0,279.0C374.1,279.3 372.0,278.8 370.0,278.0C368.0,277.2 365.0,276.7 364.0,274.0C363.0,271.3 363.4,264.6 364.0,262.0C364.6,259.4 366.2,259.1 367.5,258.3Z" fill="#a4ba66"/>
<path d="M375.5,267.5C375.5,268.7 375.0,270.2 374.3,271.0C373.7,271.9 372.4,272.5 371.5,272.5C370.6,272.5 369.3,271.9 368.7,271.0C368.0,270.2 367.5,268.7 367.5,267.5C367.5,266.3 368.0,264.8 368.7,264.0C369.3,263.1 370.6,262.5 371.5,262.5C372.4,262.5 373.7,263.1 374.3,264.0C375.0,264.8 375.5,266.3 375.5,267.5Z" fill="#d0da88"/>
<path d="M483.3,217.0C483.3,218.3 482.8,220.0 482.2,220.9C481.6,221.8 480.4,222.5 479.5,222.5C478.6,222.5 477.4,221.8 476.8,220.9C476.2,220.0 475.7,218.3 475.7,217.0C475.7,215.7 476.2,214.0 476.8,213.1C477.4,212.2 478.6,211.5 479.5,211.5C480.4,211.5 481.6,212.2 482.2,213.1C482.8,214.0 483.3,215.7 483.3,217.0Z" fill="#a4ba66"/>
<path d="M445.0,228.0C445.0,228.6 444.7,229.4 444.3,229.8C443.9,230.2 443.1,230.5 442.5,230.5C441.9,230.5 441.1,230.2 440.7,229.8C440.3,229.4 440.0,228.6 440.0,228.0C440.0,227.4 440.3,226.6 440.7,226.2C441.1,225.8 441.9,225.5 442.5,225.5C443.1,225.5 443.9,225.8 444.3,226.2C444.7,226.6 445.0,227.4 445.0,228.0Z" fill="#d0da88"/>
<path d="M456.7,240.0C457.2,238.1 458.6,236.4 460.0,235.0C461.4,233.6 463.2,232.2 465.0,231.7C466.8,231.1 469.0,231.1 470.8,231.7C472.6,232.2 474.6,233.3 475.8,235.0C477.1,236.7 478.0,239.5 478.3,241.7C478.6,243.9 478.3,246.4 477.5,248.3C476.7,250.2 475.1,252.2 473.3,253.3C471.5,254.4 468.9,255.1 466.7,255.0C464.5,254.9 461.7,253.9 460.0,252.5C458.3,251.1 457.2,248.8 456.7,246.7C456.1,244.6 456.1,241.9 456.7,240.0Z" fill="#d0da88"/>
<path d="M472.5,243.5C472.5,245.1 471.7,247.3 470.7,248.4C469.7,249.6 467.9,250.5 466.5,250.5C465.1,250.5 463.3,249.6 462.3,248.4C461.3,247.3 460.5,245.1 460.5,243.5C460.5,241.9 461.3,239.7 462.3,238.6C463.3,237.4 465.1,236.5 466.5,236.5C467.9,236.5 469.7,237.4 470.7,238.6C471.7,239.7 472.5,241.9 472.5,243.5Z" fill="#f2eca0"/>
<path d="M469.0,245.0C469.0,245.4 468.8,246.0 468.6,246.3C468.3,246.6 467.9,246.8 467.5,246.8C467.1,246.8 466.7,246.6 466.4,246.3C466.2,246.0 466.0,245.4 466.0,245.0C466.0,244.6 466.2,244.0 466.4,243.7C466.7,243.4 467.1,243.2 467.5,243.2C467.9,243.2 468.3,243.4 468.6,243.7C468.8,244.0 469.0,244.6 469.0,245.0Z" fill="#f6e598"/>
<path d="M479.0,252.0C480.2,250.7 483.0,250.0 485.0,250.0C487.0,250.0 489.3,250.7 491.0,252.0C492.7,253.3 494.5,255.7 495.0,258.0C495.5,260.3 495.0,263.8 494.0,266.0C493.0,268.2 491.0,270.2 489.0,271.0C487.0,271.8 483.8,272.0 482.0,271.0C480.2,270.0 479.2,267.2 478.5,265.0C477.8,262.8 477.9,260.2 478.0,258.0C478.1,255.8 477.8,253.3 479.0,252.0Z" fill="#d0da88"/>
<path d="M490.5,260.0C490.5,261.2 489.9,262.7 489.0,263.5C488.2,264.4 486.7,265.0 485.5,265.0C484.3,265.0 482.8,264.4 482.0,263.5C481.1,262.7 480.5,261.2 480.5,260.0C480.5,258.8 481.1,257.3 482.0,256.5C482.8,255.6 484.3,255.0 485.5,255.0C486.7,255.0 488.2,255.6 489.0,256.5C489.9,257.3 490.5,258.8 490.5,260.0Z" fill="#f2eca0"/>
<path d="M451.7,298.3C452.1,296.5 453.3,294.0 455.0,292.5C456.7,291.0 459.5,289.6 461.7,289.2C463.9,288.8 466.6,289.0 468.3,290.0C470.0,291.0 471.3,293.1 471.7,295.0C472.1,296.9 471.8,299.9 470.8,301.7C469.8,303.5 467.9,305.1 465.8,305.8C463.7,306.5 460.5,306.2 458.3,305.8C456.1,305.4 453.6,304.6 452.5,303.3C451.4,302.1 451.3,300.1 451.7,298.3Z" fill="#d0da88"/>
<path d="M467.3,297.0C467.3,297.9 466.8,299.2 466.1,299.8C465.5,300.5 464.2,301.0 463.3,301.0C462.4,301.0 461.1,300.5 460.5,299.8C459.8,299.2 459.3,297.9 459.3,297.0C459.3,296.1 459.8,294.8 460.5,294.2C461.1,293.5 462.4,293.0 463.3,293.0C464.2,293.0 465.5,293.5 466.1,294.2C466.8,294.8 467.3,296.1 467.3,297.0Z" fill="#f2eca0"/>
<path d="M494.0,291.0C494.0,292.2 493.6,293.7 493.0,294.5C492.4,295.4 491.3,296.0 490.5,296.0C489.7,296.0 488.6,295.4 488.0,294.5C487.4,293.7 487.0,292.2 487.0,291.0C487.0,289.8 487.4,288.3 488.0,287.5C488.6,286.6 489.7,286.0 490.5,286.0C491.3,286.0 492.4,286.6 493.0,287.5C493.6,288.3 494.0,289.8 494.0,291.0Z" fill="#d0da88"/>
<path d="M472.5,312.5C472.9,311.0 475.2,309.2 476.7,308.3C478.2,307.4 480.4,306.7 481.7,307.0C482.9,307.3 483.7,308.4 484.2,310.0C484.7,311.6 485.0,314.8 484.7,316.7C484.4,318.6 483.6,320.9 482.5,321.7C481.4,322.5 479.7,322.4 478.3,321.7C476.9,321.0 475.2,319.0 474.2,317.5C473.2,316.0 472.1,314.0 472.5,312.5Z" fill="#d0da88"/>
<path d="M455.8,335.0C456.3,332.8 456.8,330.4 458.0,329.0C459.2,327.6 461.2,326.9 463.0,326.7C464.8,326.4 467.4,326.8 469.0,327.5C470.6,328.2 471.7,328.9 472.5,331.0C473.3,333.1 476.9,338.2 474.0,340.0C471.1,341.8 458.0,342.8 455.0,342.0C452.0,341.2 455.3,337.2 455.8,335.0Z" fill="#d0da88"/>
<path d="M413.3,323.3C414.3,322.1 416.4,321.1 418.3,320.8C420.2,320.5 422.8,321.7 425.0,321.7C427.2,321.7 430.3,320.2 431.7,320.8C433.1,321.4 433.2,323.6 433.3,325.0C433.4,326.4 431.7,328.2 432.5,329.2C433.3,330.2 437.1,330.1 438.3,330.8C439.6,331.5 440.3,332.6 440.0,333.3C439.7,334.0 438.1,334.4 436.7,335.0C435.3,335.6 433.6,336.1 431.7,336.7C429.8,337.2 427.2,338.0 425.0,338.3C422.8,338.6 420.1,338.9 418.3,338.3C416.5,337.8 415.2,336.7 414.2,335.0C413.2,333.3 412.6,330.2 412.5,328.3C412.4,326.4 412.3,324.6 413.3,323.3Z" fill="#d0da88"/>
<path d="M420.8,334.5C420.8,335.3 420.6,336.4 420.4,337.0C420.2,337.6 419.8,338.0 419.5,338.0C419.2,338.0 418.8,337.6 418.6,337.0C418.4,336.4 418.2,335.3 418.2,334.5C418.2,333.7 418.4,332.6 418.6,332.0C418.8,331.4 419.2,331.0 419.5,331.0C419.8,331.0 420.2,331.4 420.4,332.0C420.6,332.6 420.8,333.7 420.8,334.5Z" fill="#f2eca0"/>
</g>
<polygon points="359.4,233.4 480.3,198.2 507.7,325.1 391.5,355.5" fill="none" stroke="#2a2a2a" stroke-width="1"/>
<clipPath id="c7"><polygon points="537.4,238.4 656.9,203.2 684.2,329.6 569.4,360.5"/></clipPath>
<polygon points="537.4,238.4 656.9,203.2 684.2,329.6 569.4,360.5" fill="#f2eca0"/>
<g clip-path="url(#c7)">
<path d="M575.0,250.0C576.7,242.3 584.2,245.7 590.0,244.0C595.8,242.3 601.7,241.0 610.0,240.0C618.3,239.0 630.8,237.2 640.0,238.0C649.2,238.8 656.7,243.0 665.0,245.0C673.3,247.0 685.8,234.2 690.0,250.0C694.2,265.8 701.7,325.0 690.0,340.0C678.3,355.0 633.0,346.7 620.0,340.0C607.0,333.3 615.3,308.0 612.0,300.0C608.7,292.0 605.3,293.7 600.0,292.0C594.7,290.3 584.2,297.0 580.0,290.0C575.8,283.0 573.3,257.7 575.0,250.0Z" fill="#f6e598"/>
<path d="M530.0,230.0C532.5,226.8 540.4,230.4 545.0,231.0C549.6,231.6 554.5,233.1 557.5,233.3C560.5,233.6 561.2,232.3 563.3,232.5C565.4,232.7 568.0,233.4 570.0,234.2C572.0,235.0 574.0,236.0 575.0,237.5C576.0,239.0 576.2,241.5 575.8,243.3C575.4,245.1 573.8,246.6 572.5,248.3C571.2,250.0 569.5,251.6 568.3,253.3C567.0,255.0 566.4,256.9 565.0,258.3C563.6,259.7 561.7,261.4 560.0,261.7C558.3,262.0 557.0,260.7 555.0,260.0C553.0,259.3 550.2,258.2 548.3,257.5C546.3,256.8 544.7,256.5 543.3,255.8C541.9,255.1 542.2,254.3 540.0,253.3C537.8,252.3 531.7,253.9 530.0,250.0C528.3,246.1 527.5,233.2 530.0,230.0Z" fill="#d0da88"/>
<path d="M538.3,238.3C540.8,238.3 542.8,236.6 545.0,235.8C547.2,235.0 549.8,233.7 551.7,233.3C553.7,232.9 555.5,232.5 556.7,233.3C558.0,234.1 558.5,236.4 559.2,238.3C559.9,240.2 560.7,242.8 560.8,245.0C560.9,247.2 560.7,249.9 560.0,251.7C559.3,253.5 558.1,255.0 556.7,255.8C555.3,256.6 553.4,257.1 551.7,256.7C550.0,256.3 548.4,254.4 546.7,253.3C545.0,252.2 543.0,251.1 541.7,250.0C540.5,248.9 541.2,247.5 539.2,246.7C537.2,245.9 531.5,246.8 530.0,245.0C528.5,243.2 528.6,237.1 530.0,236.0C531.4,234.9 535.8,238.3 538.3,238.3Z" fill="#a4ba66"/>
<path d="M570.0,229.0C570.0,230.8 573.3,228.4 575.0,228.5C576.7,228.6 578.6,229.2 580.2,229.5C581.8,229.8 583.5,229.4 584.4,230.0C585.3,230.6 585.2,231.6 585.4,233.2C585.6,234.8 585.2,237.5 585.4,239.4C585.6,241.3 585.6,243.4 586.5,244.7C587.4,246.0 589.1,247.1 590.7,247.3C592.3,247.5 594.6,246.8 595.9,245.7C597.2,244.6 598.2,242.2 598.5,240.5C598.8,238.8 598.0,236.7 597.4,235.3C596.8,233.9 595.0,233.0 594.8,232.1C594.5,231.2 594.8,230.6 595.9,230.1C597.0,229.6 599.4,229.3 601.1,229.0C602.8,228.7 604.6,228.8 606.3,228.5C608.0,228.2 609.9,228.0 611.5,227.4C613.1,226.8 614.8,225.9 615.7,224.8C616.6,223.7 616.7,222.8 616.8,220.7C616.9,218.6 623.5,212.4 616.5,212.0C609.5,211.6 582.8,215.2 575.0,218.0C567.2,220.8 570.0,227.2 570.0,229.0Z" fill="#d0da88"/>
<path d="M581.3,224.0C581.9,225.0 582.4,225.1 583.4,225.9C584.4,226.7 586.1,228.3 587.5,229.0C588.9,229.7 590.3,230.4 591.7,230.1C593.1,229.8 594.5,228.1 595.9,227.4C597.3,226.7 599.0,226.8 600.0,225.9C601.0,225.0 603.7,223.3 602.0,222.0C600.3,220.7 593.7,218.3 590.0,218.0C586.3,217.7 581.5,219.0 580.0,220.0C578.5,221.0 580.7,223.0 581.3,224.0Z" fill="#a4ba66"/>
<path d="M631.7,200.0C626.2,202.1 631.4,208.0 631.7,210.8C632.0,213.6 633.4,214.5 633.3,216.7C633.1,218.9 630.8,222.0 630.8,224.2C630.8,226.4 631.8,228.6 633.3,230.0C634.8,231.4 637.8,231.9 640.0,232.5C642.2,233.1 644.8,232.8 646.7,233.3C648.7,233.9 650.0,234.8 651.7,235.8C653.4,236.8 655.0,238.1 656.7,239.2C658.4,240.3 660.5,241.8 661.7,242.5C663.0,243.2 662.5,243.2 664.2,243.3C665.9,243.4 671.9,250.6 672.0,243.0C672.1,235.4 671.7,205.2 665.0,198.0C658.3,190.8 637.2,197.9 631.7,200.0Z" fill="#d0da88"/>
<path d="M636.7,203.0C634.5,205.3 636.2,209.1 636.7,211.7C637.2,214.2 638.6,216.6 640.0,218.3C641.4,220.0 643.3,221.1 645.0,221.7C646.7,222.3 648.3,222.3 650.0,221.7C651.7,221.1 653.6,219.7 655.0,218.3C656.4,216.9 657.8,215.9 658.3,213.3C658.8,210.8 659.7,205.6 658.3,203.0C656.9,200.4 653.6,198.0 650.0,198.0C646.4,198.0 638.9,200.7 636.7,203.0Z" fill="#f2eca0"/>
<path d="M664.0,236.0C664.0,237.6 663.4,239.8 662.5,240.9C661.7,242.1 660.2,243.0 659.0,243.0C657.8,243.0 656.3,242.1 655.5,240.9C654.6,239.8 654.0,237.6 654.0,236.0C654.0,234.4 654.6,232.2 655.5,231.1C656.3,229.9 657.8,229.0 659.0,229.0C660.2,229.0 661.7,229.9 662.5,231.1C663.4,232.2 664.0,234.4 664.0,236.0Z" fill="#a4ba66"/>
<path d="M610.0,230.0C611.2,227.3 613.7,227.2 616.0,227.0C618.3,226.8 622.2,227.5 624.0,229.0C625.8,230.5 626.7,233.5 627.0,236.0C627.3,238.5 627.0,241.8 626.0,244.0C625.0,246.2 623.2,248.2 621.0,249.0C618.8,249.8 615.0,250.0 613.0,249.0C611.0,248.0 609.5,246.2 609.0,243.0C608.5,239.8 608.8,232.7 610.0,230.0Z" fill="#f5d88a"/>
<path d="M621.5,239.5C621.5,241.1 620.9,243.3 620.0,244.4C619.2,245.6 617.7,246.5 616.5,246.5C615.3,246.5 613.8,245.6 613.0,244.4C612.1,243.3 611.5,241.1 611.5,239.5C611.5,237.9 612.1,235.7 613.0,234.6C613.8,233.4 615.3,232.5 616.5,232.5C617.7,232.5 619.2,233.4 620.0,234.6C620.9,235.7 621.5,237.9 621.5,239.5Z" fill="#e6ba80"/>
<path d="M616.7,244.5C616.7,245.0 616.4,245.6 616.0,245.9C615.6,246.2 614.8,246.5 614.2,246.5C613.6,246.5 612.8,246.2 612.4,245.9C612.0,245.6 611.7,245.0 611.7,244.5C611.7,244.0 612.0,243.4 612.4,243.1C612.8,242.8 613.6,242.5 614.2,242.5C614.8,242.5 615.6,242.8 616.0,243.1C616.4,243.4 616.7,244.0 616.7,244.5Z" fill="#d4a482"/>
<path d="M574.6,262.0C575.3,258.2 576.3,255.2 578.0,253.0C579.7,250.8 582.2,249.4 585.0,248.5C587.8,247.6 591.8,247.4 595.0,247.5C598.2,247.6 601.6,247.8 604.0,249.0C606.4,250.2 608.4,252.3 609.5,255.0C610.6,257.7 610.8,261.2 610.5,265.0C610.2,268.8 609.2,273.8 608.0,278.0C606.8,282.2 605.2,287.5 603.0,290.0C600.8,292.5 598.0,292.8 595.0,293.0C592.0,293.2 588.0,292.7 585.0,291.5C582.0,290.3 578.8,288.6 577.0,286.0C575.2,283.4 574.4,280.0 574.0,276.0C573.6,272.0 573.9,265.8 574.6,262.0Z" fill="#f5d88a"/>
<path d="M580.0,276.6C579.8,274.3 581.3,272.1 582.7,269.8C584.1,267.6 586.8,265.4 588.2,263.1C589.6,260.9 589.8,258.0 590.9,256.3C592.0,254.6 593.2,253.4 595.0,252.9C596.8,252.4 599.9,252.6 601.7,253.6C603.5,254.6 604.9,256.8 605.8,259.0C606.7,261.2 607.4,264.4 607.2,267.1C607.0,269.8 605.3,272.6 604.4,275.3C603.5,278.0 603.1,281.1 601.7,283.4C600.4,285.6 598.3,288.1 596.3,288.8C594.3,289.5 591.5,288.4 589.5,287.5C587.5,286.6 585.7,285.2 584.1,283.4C582.5,281.6 580.2,278.9 580.0,276.6Z" fill="#e6ba80"/>
<path d="M590.9,278.0C590.9,276.1 592.7,273.5 593.6,271.2C594.5,268.9 595.3,266.0 596.3,264.4C597.3,262.8 598.7,261.7 599.7,261.7C600.7,261.7 602.0,262.8 602.4,264.4C602.8,266.0 602.8,269.2 602.4,271.2C602.0,273.2 600.5,274.8 599.7,276.6C598.9,278.4 598.7,281.0 597.7,282.0C596.7,283.0 594.7,283.4 593.6,282.7C592.5,282.0 590.9,279.9 590.9,278.0Z" fill="#d4a482"/>
<path d="M557.5,271.5C557.5,273.5 556.7,276.1 555.6,277.5C554.5,278.9 552.5,280.0 551.0,280.0C549.5,280.0 547.5,278.9 546.4,277.5C545.3,276.1 544.5,273.5 544.5,271.5C544.5,269.5 545.3,266.9 546.4,265.5C547.5,264.1 549.5,263.0 551.0,263.0C552.5,263.0 554.5,264.1 555.6,265.5C556.7,266.9 557.5,269.5 557.5,271.5Z" fill="#f5d88a"/>
<path d="M554.2,271.8C554.2,272.9 553.7,274.4 553.0,275.2C552.4,276.0 551.1,276.6 550.2,276.6C549.3,276.6 548.0,276.0 547.4,275.2C546.7,274.4 546.2,272.9 546.2,271.8C546.2,270.7 546.7,269.2 547.4,268.4C548.0,267.6 549.3,267.0 550.2,267.0C551.1,267.0 552.4,267.6 553.0,268.4C553.7,269.2 554.2,270.7 554.2,271.8Z" fill="#e6ba80"/>
<path d="M560.0,343.0C562.2,338.8 565.0,343.0 568.0,342.7C571.0,342.4 575.2,341.3 578.0,341.0C580.8,340.7 582.8,342.7 585.0,341.0C587.2,339.3 588.4,332.3 591.2,331.0C594.0,329.7 599.6,330.8 601.6,333.0C603.6,335.2 600.9,344.3 603.0,344.0C605.1,343.7 609.5,333.3 614.5,331.0C619.5,328.7 628.5,329.2 632.7,330.0C637.0,330.8 638.8,329.7 640.0,336.0C641.2,342.3 654.2,362.7 640.0,368.0C625.8,373.3 568.3,372.2 555.0,368.0C541.7,363.8 557.8,347.2 560.0,343.0Z" fill="#f6e598"/>
<path d="M592.8,323.2C592.8,324.5 592.3,326.2 591.6,327.1C590.9,328.0 589.6,328.7 588.6,328.7C587.6,328.7 586.3,328.0 585.6,327.1C584.9,326.2 584.4,324.5 584.4,323.2C584.4,321.9 584.9,320.2 585.6,319.3C586.3,318.4 587.6,317.7 588.6,317.7C589.6,317.7 590.9,318.4 591.6,319.3C592.3,320.2 592.8,321.9 592.8,323.2Z" fill="#f6e598"/>
<path d="M633.0,244.0C634.3,241.7 637.7,239.0 640.0,238.0C642.3,237.0 644.7,237.0 647.0,238.0C649.3,239.0 651.8,242.2 654.0,244.0C656.2,245.8 657.7,248.0 660.0,249.0C662.3,250.0 663.0,250.2 668.0,250.0C673.0,249.8 686.3,233.7 690.0,248.0C693.7,262.3 694.7,321.3 690.0,336.0C685.3,350.7 668.0,337.3 662.0,336.0C656.0,334.7 656.7,331.0 654.0,328.0C651.3,325.0 648.7,321.0 646.0,318.0C643.3,315.0 639.8,313.0 638.0,310.0C636.2,307.0 635.3,303.3 635.0,300.0C634.7,296.7 635.3,293.3 636.0,290.0C636.7,286.7 638.5,283.7 639.0,280.0C639.5,276.3 639.8,271.3 639.0,268.0C638.2,264.7 635.2,262.7 634.0,260.0C632.8,257.3 632.2,254.7 632.0,252.0C631.8,249.3 631.7,246.3 633.0,244.0Z" fill="#f5d88a"/>
<path d="M636.7,252.0C637.2,249.6 638.6,244.4 640.0,242.5C641.4,240.6 643.3,240.7 645.0,240.8C646.7,240.9 648.6,242.1 650.0,243.3C651.4,244.6 651.9,246.9 653.3,248.3C654.7,249.7 656.6,250.9 658.3,251.7C660.0,252.5 661.3,253.2 663.3,253.3C665.2,253.4 665.5,252.6 670.0,252.0C674.5,251.4 686.7,236.2 690.0,250.0C693.3,263.8 693.7,321.2 690.0,335.0C686.3,348.8 672.7,334.1 668.0,333.0C663.3,331.9 663.6,329.6 661.7,328.3C659.8,327.0 658.1,326.4 656.7,325.0C655.3,323.6 654.4,321.7 653.3,320.0C652.2,318.3 651.4,316.7 650.0,315.0C648.6,313.3 646.7,311.7 645.0,310.0C643.3,308.3 641.1,306.9 640.0,305.0C638.9,303.1 638.3,300.8 638.3,298.3C638.3,295.8 639.4,293.1 640.0,290.0C640.6,286.9 641.5,283.7 642.0,280.0C642.5,276.3 643.6,271.0 643.3,268.0C643.0,265.0 641.0,263.8 640.0,262.0C639.0,260.2 637.5,258.7 637.0,257.0C636.5,255.3 636.2,254.4 636.7,252.0Z" fill="#e6ba80"/>
<path d="M650.0,298.3C649.7,296.2 650.0,295.0 650.8,293.3C651.6,291.6 654.0,290.2 655.0,288.3C656.0,286.4 656.2,283.9 656.7,281.7C657.2,279.5 657.2,276.5 658.3,275.0C659.4,273.5 661.6,272.5 663.3,272.5C665.0,272.5 666.9,273.5 668.3,275.0C669.7,276.5 670.9,279.5 671.7,281.7C672.5,283.9 672.9,285.8 673.3,288.3C673.7,290.8 674.5,294.2 674.2,296.7C673.9,299.2 673.0,301.6 671.7,303.3C670.5,305.0 668.4,305.7 666.7,306.7C665.0,307.7 663.4,308.6 661.7,309.2C660.0,309.8 658.2,310.6 656.7,310.0C655.2,309.4 653.6,307.8 652.5,305.8C651.4,303.9 650.3,300.4 650.0,298.3Z" fill="#d4a482"/>
<path d="M648.0,252.0C648.0,252.9 647.5,254.2 646.8,254.8C646.2,255.5 644.9,256.0 644.0,256.0C643.1,256.0 641.8,255.5 641.2,254.8C640.5,254.2 640.0,252.9 640.0,252.0C640.0,251.1 640.5,249.8 641.2,249.2C641.8,248.5 643.1,248.0 644.0,248.0C644.9,248.0 646.2,248.5 646.8,249.2C647.5,249.8 648.0,251.1 648.0,252.0Z" fill="#d4a482"/>
<path d="M661.5,262.5C661.5,263.4 661.1,264.7 660.5,265.3C659.9,266.0 658.8,266.5 658.0,266.5C657.2,266.5 656.1,266.0 655.5,265.3C654.9,264.7 654.5,263.4 654.5,262.5C654.5,261.6 654.9,260.3 655.5,259.7C656.1,259.0 657.2,258.5 658.0,258.5C658.8,258.5 659.9,259.0 660.5,259.7C661.1,260.3 661.5,261.6 661.5,262.5Z" fill="#d4a482"/>
<path d="M678.0,312.0C678.0,313.2 677.2,314.7 676.2,315.5C675.2,316.4 673.4,317.0 672.0,317.0C670.6,317.0 668.8,316.4 667.8,315.5C666.8,314.7 666.0,313.2 666.0,312.0C666.0,310.8 666.8,309.3 667.8,308.5C668.8,307.6 670.6,307.0 672.0,307.0C673.4,307.0 675.2,307.6 676.2,308.5C677.2,309.3 678.0,310.8 678.0,312.0Z" fill="#f5d88a"/>
<path d="M640.5,331.0C640.5,332.3 640.0,334.0 639.3,334.9C638.7,335.8 637.4,336.5 636.5,336.5C635.6,336.5 634.3,335.8 633.7,334.9C633.0,334.0 632.5,332.3 632.5,331.0C632.5,329.7 633.0,328.0 633.7,327.1C634.3,326.2 635.6,325.5 636.5,325.5C637.4,325.5 638.7,326.2 639.3,327.1C640.0,328.0 640.5,329.7 640.5,331.0Z" fill="#e6ba80"/>
<path d="M674.5,330.0C674.5,330.8 674.1,331.9 673.5,332.5C672.9,333.1 671.8,333.5 671.0,333.5C670.2,333.5 669.1,333.1 668.5,332.5C667.9,331.9 667.5,330.8 667.5,330.0C667.5,329.2 667.9,328.1 668.5,327.5C669.1,326.9 670.2,326.5 671.0,326.5C671.8,326.5 672.9,326.9 673.5,327.5C674.1,328.1 674.5,329.2 674.5,330.0Z" fill="#e6ba80"/>
<path d="M641.0,326.0C641.0,327.2 640.0,328.7 638.7,329.5C637.3,330.4 634.9,331.0 633.0,331.0C631.1,331.0 628.7,330.4 627.3,329.5C626.0,328.7 625.0,327.2 625.0,326.0C625.0,324.8 626.0,323.3 627.3,322.5C628.7,321.6 631.1,321.0 633.0,321.0C634.9,321.0 637.3,321.6 638.7,322.5C640.0,323.3 641.0,324.8 641.0,326.0Z" fill="#f5d88a"/>
<path d="M555.0,286.7C555.7,284.5 556.9,282.8 558.3,281.7C559.7,280.6 561.6,279.7 563.3,280.0C565.0,280.3 567.0,281.4 568.3,283.3C569.5,285.2 570.0,289.2 570.8,291.7C571.6,294.2 572.0,296.6 573.3,298.3C574.5,300.0 576.6,301.0 578.3,301.7C580.0,302.4 581.6,302.4 583.3,302.5C585.0,302.6 587.2,302.1 588.3,302.5C589.4,302.9 590.3,304.0 590.0,305.0C589.7,306.0 587.8,306.9 586.7,308.3C585.6,309.7 584.0,311.1 583.3,313.3C582.6,315.5 582.8,318.9 582.5,321.7C582.2,324.5 582.4,327.8 581.7,330.0C581.0,332.2 579.7,333.9 578.3,335.0C576.9,336.1 575.0,336.6 573.3,336.7C571.6,336.8 569.7,336.6 568.3,335.8C566.9,335.0 566.0,333.5 565.0,331.7C564.0,329.9 563.3,327.2 562.5,325.0C561.7,322.8 560.8,320.5 560.0,318.3C559.2,316.1 558.2,314.2 557.5,311.7C556.8,309.2 556.3,306.1 555.8,303.3C555.2,300.5 554.3,297.8 554.2,295.0C554.1,292.2 554.3,288.9 555.0,286.7Z" fill="#d0da88"/>
<path d="M558.3,290.0C558.9,288.3 560.5,286.0 561.7,285.0C563.0,284.0 564.5,283.6 565.8,284.2C567.0,284.8 568.5,285.9 569.2,288.3C569.9,290.7 569.3,295.5 570.0,298.3C570.7,301.1 571.9,303.1 573.3,305.0C574.7,306.9 577.2,308.1 578.3,310.0C579.4,311.9 579.9,314.2 580.0,316.7C580.1,319.2 579.9,322.5 579.2,325.0C578.5,327.5 577.0,330.3 575.8,331.7C574.5,333.1 573.1,333.6 571.7,333.3C570.3,333.0 568.8,331.9 567.5,330.0C566.2,328.1 565.2,324.5 564.2,321.7C563.2,318.9 562.5,316.4 561.7,313.3C560.9,310.2 559.8,306.4 559.2,303.3C558.6,300.2 558.1,297.2 558.0,295.0C557.9,292.8 557.7,291.7 558.3,290.0Z" fill="#a4ba66"/>
<path d="M600.8,315.0C600.8,313.3 602.6,311.7 603.3,310.0C604.0,308.3 603.9,306.2 605.0,305.0C606.1,303.8 608.3,303.1 610.0,302.5C611.7,301.9 613.3,301.1 615.0,301.7C616.7,302.2 618.5,304.6 620.0,305.8C621.5,307.1 623.7,307.7 624.2,309.2C624.8,310.7 623.6,313.2 623.3,315.0C623.0,316.8 622.8,318.3 622.5,320.0C622.2,321.7 622.7,323.8 621.7,325.0C620.7,326.2 618.4,327.5 616.7,327.5C615.0,327.5 613.4,325.8 611.7,325.0C610.0,324.2 608.1,323.3 606.7,322.5C605.3,321.7 604.3,321.2 603.3,320.0C602.3,318.8 600.8,316.7 600.8,315.0Z" fill="#d0da88"/>
<path d="M624.2,268.5C624.2,269.4 623.7,270.5 623.1,271.1C622.5,271.7 621.4,272.2 620.5,272.2C619.6,272.2 618.5,271.7 617.9,271.1C617.3,270.5 616.8,269.4 616.8,268.5C616.8,267.6 617.3,266.5 617.9,265.9C618.5,265.3 619.6,264.8 620.5,264.8C621.4,264.8 622.5,265.3 623.1,265.9C623.7,266.5 624.2,267.6 624.2,268.5Z" fill="#d0da88"/>
</g>
<polygon points="537.4,238.4 656.9,203.2 684.2,329.6 569.4,360.5" fill="none" stroke="#2a2a2a" stroke-width="1"/>
<g font-family="Liberation Serif, serif" font-size="16.4" fill="#2b2b2b">
<text transform="translate(17.8,179.6) scale(1,0.95)">a) sugar maple h1</text>
<text transform="translate(190.85,179.6) scale(1,0.95)">b) sugar maple h2</text>
<text transform="translate(376.8,179.6) scale(1,0.95)">c) sugar maple h3</text>
<text transform="translate(553.6,179.6) scale(1,0.95)">d) sugar maple total</text>
<text transform="translate(37.8,381.4) scale(1,0.95)">e) beech h1</text>
<text transform="translate(212.5,381.4) scale(1,0.95)">f) beech h2</text>
<text transform="translate(396.45,381.4) scale(1,0.95)">g) beech h3</text>
<text transform="translate(575.4,381.4) scale(1,0.95)">h) beech total</text>
<text x="207.4" y="457.4" text-anchor="middle">1</text>
<text x="251.9" y="457.4" text-anchor="middle">4</text>
<text x="294.9" y="457.4" text-anchor="middle">7</text>
<text x="336.45" y="457.4" text-anchor="middle">20</text>
<text x="385.5" y="457.4" text-anchor="middle">35+</text>
<text x="225.5" y="478.8" font-size="16">ten thousand stems ha</text>
<text x="365.3" y="472.8" font-size="9">-1</text>
<path d="M461,438 V428 H580.6 V438 M487.6,428 V438 M519.7,428 V438" fill="none" stroke="#111" stroke-width="1.6"/>
<text x="461" y="452.9" text-anchor="middle">0</text>
<text x="487.6" y="452.9" text-anchor="middle">6</text>
<text x="520" y="452.9" text-anchor="middle">12</text>
<text x="573.6" y="452.9">24 meters</text>
</g>
<rect x="201.00" y="425.2" width="14.35" height="14" fill="#729b52" stroke="#111" stroke-width="1.3"/>
<rect x="215.35" y="425.2" width="14.35" height="14" fill="#a4ba66" stroke="#111" stroke-width="1.3"/>
<rect x="229.70" y="425.2" width="14.35" height="14" fill="#d0da88" stroke="#111" stroke-width="1.3"/>
<rect x="244.05" y="425.2" width="14.35" height="14" fill="#f2eca0" stroke="#111" stroke-width="1.3"/>
<rect x="258.40" y="425.2" width="14.35" height="14" fill="#f6e598" stroke="#111" stroke-width="1.3"/>
<rect x="272.75" y="425.2" width="14.35" height="14" fill="#f5d88a" stroke="#111" stroke-width="1.3"/>
<rect x="287.10" y="425.2" width="14.35" height="14" fill="#f2cc78" stroke="#111" stroke-width="1.3"/>
<rect x="301.45" y="425.2" width="14.35" height="14" fill="#e6ba80" stroke="#111" stroke-width="1.3"/>
<rect x="315.80" y="425.2" width="14.35" height="14" fill="#d4a482" stroke="#111" stroke-width="1.3"/>
<rect x="330.15" y="425.2" width="14.35" height="14" fill="#c88a74" stroke="#111" stroke-width="1.3"/>
<rect x="344.50" y="425.2" width="14.35" height="14" fill="#dcaaa6" stroke="#111" stroke-width="1.3"/>
<rect x="358.85" y="425.2" width="14.35" height="14" fill="#f0d0e0" stroke="#111" stroke-width="1.3"/>
<rect x="373.20" y="425.2" width="14.35" height="14" fill="#f8f2f8" stroke="#111" stroke-width="1.3"/>
<polygon points="41.3,427.2 45.6,442.9 41.3,447.2" fill="#fff" stroke="#000" stroke-width="1" stroke-linejoin="miter"/>
<polygon points="41.3,427.2 37.0,442.9 41.3,447.2" fill="#000" stroke="#000" stroke-width="1" stroke-linejoin="miter"/>
<polygon points="61.8,447.2 45.6,451.5 41.3,447.2" fill="#fff" stroke="#000" stroke-width="1" stroke-linejoin="miter"/>
<polygon points="61.8,447.2 45.6,442.9 41.3,447.2" fill="#000" stroke="#000" stroke-width="1" stroke-linejoin="miter"/>
<polygon points="41.3,467.2 37.0,451.5 41.3,447.2" fill="#fff" stroke="#000" stroke-width="1" stroke-linejoin="miter"/>
<polygon points="41.3,467.2 45.6,451.5 41.3,447.2" fill="#000" stroke="#000" stroke-width="1" stroke-linejoin="miter"/>
<polygon points="20.4,447.2 37.0,442.9 41.3,447.2" fill="#fff" stroke="#000" stroke-width="1" stroke-linejoin="miter"/>
<polygon points="20.4,447.2 37.0,451.5 41.3,447.2" fill="#000" stroke="#000" stroke-width="1" stroke-linejoin="miter"/>
<g font-family="Liberation Sans, sans-serif" font-size="14" fill="#111">
<text x="41.9" y="425.8" text-anchor="middle">N</text>
<text x="41.85" y="478.6" text-anchor="middle">S</text>
<text x="14.05" y="451.3" text-anchor="middle">W</text>
<text x="66.95" y="451.6" text-anchor="middle">E</text>
</g>
</svg>
</body></html>
